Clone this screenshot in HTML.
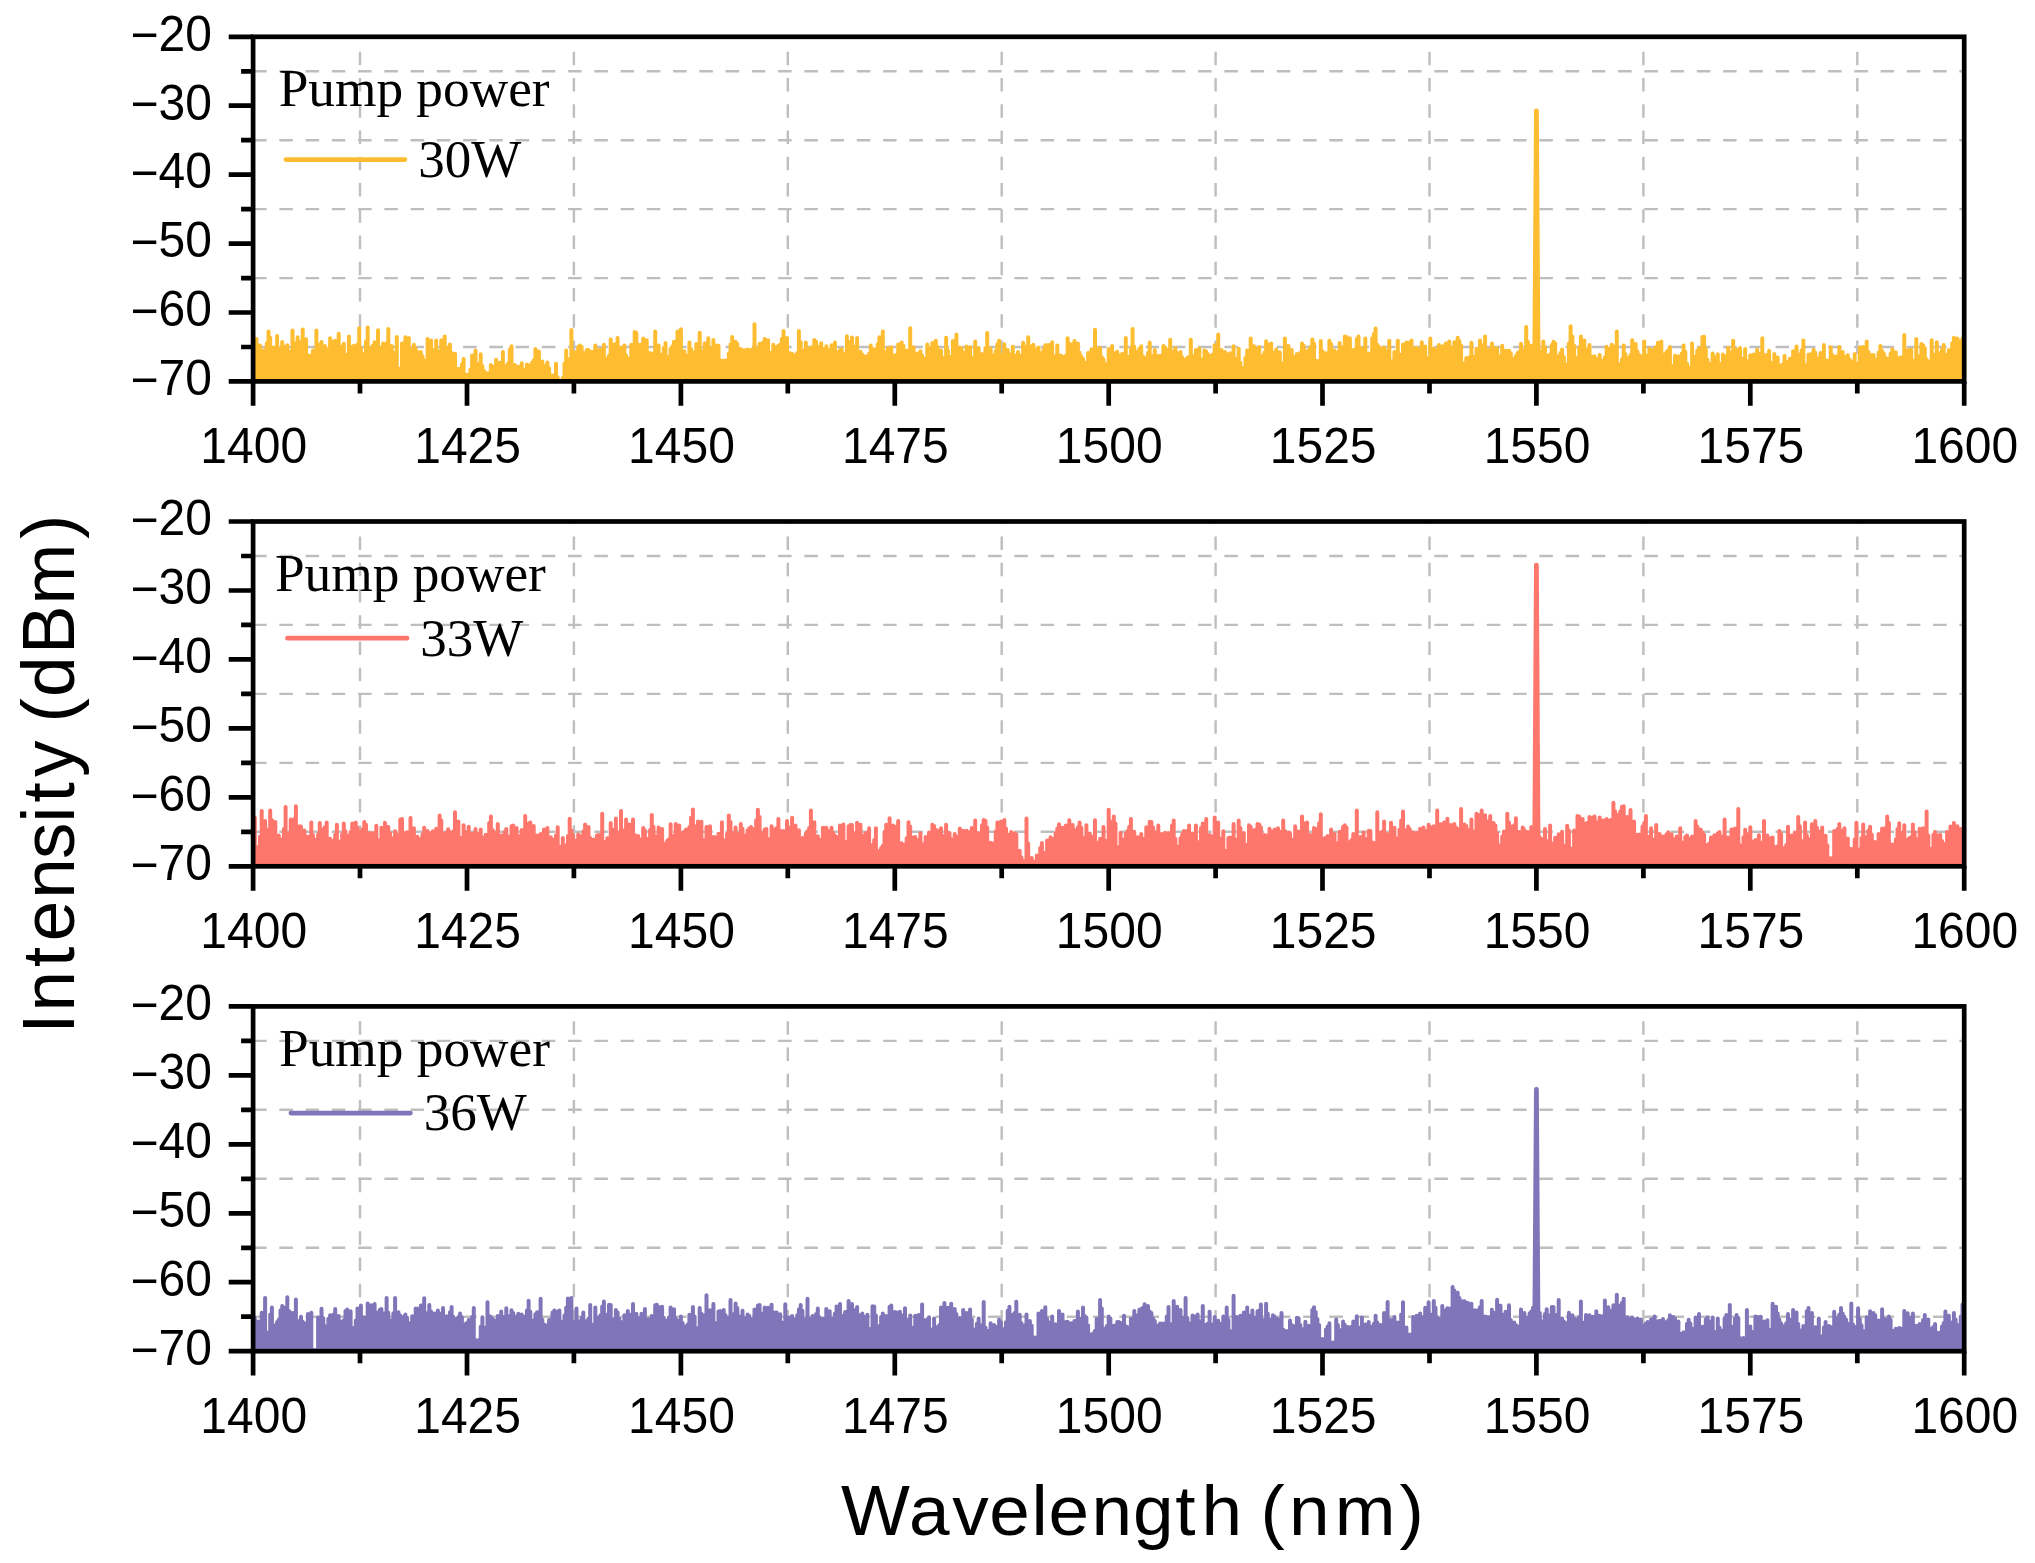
<!DOCTYPE html>
<html lang="en"><head><meta charset="utf-8"><title>Optical spectra at different pump power</title>
<style>html,body{margin:0;padding:0;background:#fff}body{width:2035px;height:1563px;overflow:hidden}svg{display:block}.tk{font-family:"Liberation Sans",sans-serif;font-size:46.6px;fill:#000}.ti{font-family:"Liberation Sans",sans-serif;fill:#000}.lg{font-family:"Liberation Serif",serif;fill:#000}</style></head><body>
<svg width="2035" height="1563" viewBox="0 0 2035 1563">
<rect width="2035" height="1563" fill="#fff"/>
<defs>
<clipPath id="c0"><rect x="253.1" y="36.8" width="1711.1" height="344.6"/></clipPath>
<clipPath id="c1"><rect x="253.1" y="521.5" width="1711.1" height="344.8"/></clipPath>
<clipPath id="c2"><rect x="253.1" y="1006.4" width="1711.1" height="344.8"/></clipPath>
</defs>
<g id="panel1">
<path d="M253.1 71.3H1964.2M253.1 140.2H1964.2M253.1 209.1H1964.2M253.1 278.1H1964.2M253.1 347H1964.2" fill="none" stroke="#BEBEBE" stroke-width="2.4" stroke-dasharray="13.5 12.75"/>
<path d="M360 380.2V36.8M573.9 380.2V36.8M787.8 380.2V36.8M1001.7 380.2V36.8M1215.6 380.2V36.8M1429.5 380.2V36.8M1643.4 380.2V36.8M1857.3 380.2V36.8" fill="none" stroke="#BEBEBE" stroke-width="2.4" stroke-dasharray="13.5 12.75"/>
<g clip-path="url(#c0)">
<path d="M253.1 381.4V341.3M254.8 381.4V346.1M256.5 381.4V339.1M258.2 381.4V348.1M259.9 381.4V345.4M261.7 381.4V355M263.4 381.4V350.4M265.1 381.4V350.3M266.8 381.4V343.2M268.5 381.4V331.5M270.2 381.4V337.7M271.9 381.4V356.6M273.6 381.4V347.5M275.3 381.4V353.9M277.1 381.4V335.9M278.8 381.4V348.9M280.5 381.4V355.8M282.2 381.4V342M283.9 381.4V362.4M285.6 381.4V346.8M287.3 381.4V345.2M289 381.4V351.4M290.7 381.4V358.7M292.5 381.4V330.4M294.2 381.4V344.3M295.9 381.4V343.3M297.6 381.4V337.3M299.3 381.4V341.8M301 381.4V344.2M302.7 381.4V329.5M304.4 381.4V355.2M306.1 381.4V339.2M307.9 381.4V364.2M309.6 381.4V355.5M311.3 381.4V357.6M313 381.4V350.5M314.7 381.4V362.7M316.4 381.4V330.6M318.1 381.4V344.7M319.8 381.4V352.2M321.5 381.4V342.1M323.3 381.4V354.3M325 381.4V345.9M326.7 381.4V349M328.4 381.4V356.2M330.1 381.4V338.2M331.8 381.4V347.2M333.5 381.4V341.8M335.2 381.4V340.8M336.9 381.4V347.5M338.7 381.4V333.7M340.4 381.4V351.9M342.1 381.4V346.5M343.8 381.4V343.7M345.5 381.4V354.8M347.2 381.4V356.2M348.9 381.4V336.4M350.6 381.4V348.5M352.3 381.4V346.7M354.1 381.4V345.8M355.8 381.4V349.6M357.5 381.4V344.4M359.2 381.4V328.3M360.9 381.4V348.2M362.6 381.4V353.9M364.3 381.4V357.9M366 381.4V341.4M367.7 381.4V327.6M369.5 381.4V358.6M371.2 381.4V348.4M372.9 381.4V345.4M374.6 381.4V342.3M376.3 381.4V357.8M378 381.4V330.2M379.7 381.4V349M381.4 381.4V347.6M383.1 381.4V343.6M384.9 381.4V351.1M386.6 381.4V343.3M388.3 381.4V329M390 381.4V349.9M391.7 381.4V346.1M393.4 381.4V357.2M395.1 381.4V352.4M396.8 381.4V337.1M398.5 381.4V370.5M400.3 381.4V368.5M402 381.4V343.6M403.7 381.4V356.2M405.4 381.4V337.3M407.1 381.4V342.4M408.8 381.4V338.1M410.5 381.4V349.7M412.2 381.4V355.2M413.9 381.4V344.7M415.7 381.4V348.7M417.4 381.4V351.9M419.1 381.4V352.6M420.8 381.4V352.1M422.5 381.4V356.2M424.2 381.4V360.6M425.9 381.4V370.8M427.6 381.4V339.1M429.3 381.4V349M431.1 381.4V340.5M432.8 381.4V350.1M434.5 381.4V354.8M436.2 381.4V340.6M437.9 381.4V351.2M439.6 381.4V354.4M441.3 381.4V340.2M443 381.4V359.9M444.7 381.4V336.5M446.5 381.4V351.9M448.2 381.4V347.6M449.9 381.4V344.5M451.6 381.4V353M453.3 381.4V357M455 381.4V353.8M456.7 381.4V371.1M458.4 381.4V368.8M460.1 381.4V376.3M461.9 381.4V364.3M463.6 381.4V359M465.3 381.4V374.5M467 381.4V377.9M468.7 381.4V374.5M470.4 381.4V369.6M472.1 381.4V355.4M473.8 381.4V362.3M475.5 381.4V350.4M477.3 381.4V368.3M479 381.4V364.1M480.7 381.4V354.2M482.4 381.4V366.1M484.1 381.4V370.9M485.8 381.4V373.1M487.5 381.4V376.6M489.2 381.4V373.1M490.9 381.4V364.9M492.7 381.4V366.4M494.4 381.4V366.7M496.1 381.4V359.8M497.8 381.4V375.6M499.5 381.4V362.8M501.2 381.4V373.4M502.9 381.4V351.9M504.6 381.4V366M506.3 381.4V377.1M508.1 381.4V363.2M509.8 381.4V349.5M511.5 381.4V346.2M513.2 381.4V371.3M514.9 381.4V365.1M516.6 381.4V368.8M518.3 381.4V366.8M520 381.4V371.3M521.7 381.4V363.2M523.5 381.4V371.2M525.2 381.4V369.6M526.9 381.4V364.6M528.6 381.4V365.4M530.3 381.4V373.3M532 381.4V362.7M533.7 381.4V360.3M535.4 381.4V349M537.1 381.4V367.1M538.9 381.4V351.6M540.6 381.4V372.6M542.3 381.4V361.4M544 381.4V366.9M545.7 381.4V365.8M547.4 381.4V362.4M549.1 381.4V368.2M550.8 381.4V375.2M552.5 381.4V378.6M554.3 381.4V375.2M556 381.4V363.7M557.7 381.4V377.2M559.4 381.4V380.7M562.8 381.4V377.7M564.5 381.4V363.6M566.2 381.4V350.4M567.9 381.4V365M569.7 381.4V358.9M571.4 381.4V330.1M573.1 381.4V354.8M574.8 381.4V352.2M576.5 381.4V351.9M578.2 381.4V347M579.9 381.4V345.5M581.6 381.4V346.8M583.3 381.4V353M585.1 381.4V354.9M586.8 381.4V350M588.5 381.4V350.1M590.2 381.4V356.4M591.9 381.4V351.8M593.6 381.4V353.1M595.3 381.4V345.4M597 381.4V349.8M598.7 381.4V356.1M600.5 381.4V349.8M602.2 381.4V353.7M603.9 381.4V344.7M605.6 381.4V359.8M607.3 381.4V358.8M609 381.4V355.6M610.7 381.4V339.4M612.4 381.4V345.9M614.1 381.4V344.6M615.9 381.4V344M617.6 381.4V338.1M619.3 381.4V350.8M621 381.4V347.7M622.7 381.4V349.5M624.4 381.4V345.6M626.1 381.4V355.5M627.8 381.4V358.5M629.5 381.4V365.8M631.3 381.4V344.8M633 381.4V359.2M634.7 381.4V332M636.4 381.4V332.9M638.1 381.4V344.6M639.8 381.4V350.7M641.5 381.4V344.6M643.2 381.4V338.5M644.9 381.4V345.7M646.7 381.4V340.3M648.4 381.4V354.6M650.1 381.4V353.1M651.8 381.4V357.4M653.5 381.4V353.6M655.2 381.4V331.4M656.9 381.4V356.7M658.6 381.4V345.6M660.3 381.4V354.6M662.1 381.4V362.6M663.8 381.4V347.9M665.5 381.4V343M667.2 381.4V356.8M668.9 381.4V364.1M670.6 381.4V348.8M672.3 381.4V346.3M674 381.4V341.8M675.7 381.4V349.8M677.5 381.4V331.4M679.2 381.4V343.9M680.9 381.4V329.2M682.6 381.4V358.3M684.3 381.4V351.3M686 381.4V355.5M687.7 381.4V360.9M689.4 381.4V342.5M691.1 381.4V349M692.9 381.4V352.2M694.6 381.4V354.4M696.3 381.4V343.9M698 381.4V356.9M699.7 381.4V332.8M701.4 381.4V350.9M703.1 381.4V363M704.8 381.4V343.3M706.5 381.4V350.8M708.3 381.4V338.2M710 381.4V348.7M711.7 381.4V359.4M713.4 381.4V340.1M715.1 381.4V347.1M716.8 381.4V345.4M718.5 381.4V345.8M720.2 381.4V362.6M721.9 381.4V360.5M723.7 381.4V369.6M725.4 381.4V360.4M727.1 381.4V363.4M728.8 381.4V353.6M730.5 381.4V344.6M732.2 381.4V337.1M733.9 381.4V356.7M735.6 381.4V341.7M737.3 381.4V343.9M739.1 381.4V349.3M740.8 381.4V349M742.5 381.4V350.4M744.2 381.4V350.3M745.9 381.4V350.5M747.6 381.4V349.6M749.3 381.4V356.5M751 381.4V349.8M752.7 381.4V363.3M754.5 381.4V324.2M756.2 381.4V353.3M757.9 381.4V348.7M759.6 381.4V343.8M761.3 381.4V349.8M763 381.4V342.4M764.7 381.4V338.9M766.4 381.4V347.4M768.1 381.4V340.2M769.9 381.4V353M771.6 381.4V352.7M773.3 381.4V344.7M775 381.4V354.4M776.7 381.4V346.9M778.4 381.4V345.8M780.1 381.4V344.7M781.8 381.4V338.9M783.5 381.4V331M785.3 381.4V352.5M787 381.4V338.1M788.7 381.4V352.7M790.4 381.4V353.6M792.1 381.4V353.8M793.8 381.4V366M795.5 381.4V355.2M797.2 381.4V352.9M798.9 381.4V331.1M800.7 381.4V342.3M802.4 381.4V352.7M804.1 381.4V350.5M805.8 381.4V342.6M807.5 381.4V355.7M809.2 381.4V348.9M810.9 381.4V347.6M812.6 381.4V347.5M814.3 381.4V340M816.1 381.4V341.4M817.8 381.4V346.8M819.5 381.4V346.7M821.2 381.4V343.3M822.9 381.4V348.7M824.6 381.4V350.2M826.3 381.4V346.2M828 381.4V351M829.7 381.4V350M831.5 381.4V345.2M833.2 381.4V351.3M834.9 381.4V342.5M836.6 381.4V352.1M838.3 381.4V354.9M840 381.4V350M841.7 381.4V349.3M843.4 381.4V353.5M845.1 381.4V358.6M846.9 381.4V336.3M848.6 381.4V350.9M850.3 381.4V341.8M852 381.4V337.5M853.7 381.4V346.5M855.4 381.4V352M857.1 381.4V338.1M858.8 381.4V356.4M860.5 381.4V351.8M862.3 381.4V354.4M864 381.4V371M865.7 381.4V356.2M867.4 381.4V358.8M869.1 381.4V353.8M870.8 381.4V345.6M872.5 381.4V357.5M874.2 381.4V349.3M875.9 381.4V368.1M877.7 381.4V344.3M879.4 381.4V337.3M881.1 381.4V340.6M882.8 381.4V331.6M884.5 381.4V355.6M886.2 381.4V352M887.9 381.4V348.2M889.6 381.4V354.4M891.3 381.4V347.3M893.1 381.4V355.6M894.8 381.4V361.3M896.5 381.4V354.8M898.2 381.4V344.6M899.9 381.4V355.4M901.6 381.4V342.5M903.3 381.4V345.8M905 381.4V361.5M906.7 381.4V350.5M908.5 381.4V363.2M910.2 381.4V328.3M911.9 381.4V353.6M913.6 381.4V347.3M915.3 381.4V360M917 381.4V353.7M918.7 381.4V353.2M920.4 381.4V351.3M922.1 381.4V355.5M923.9 381.4V360.6M925.6 381.4V358.7M927.3 381.4V344.6M929 381.4V350.8M930.7 381.4V347.9M932.4 381.4V343M934.1 381.4V360.9M935.8 381.4V340.8M937.5 381.4V347M939.3 381.4V358.4M941 381.4V350.4M942.7 381.4V357.6M944.4 381.4V361M946.1 381.4V337.8M947.8 381.4V350.2M949.5 381.4V356.8M951.2 381.4V362.3M952.9 381.4V341.1M954.7 381.4V347.5M956.4 381.4V334.5M958.1 381.4V347.2M959.8 381.4V347.5M961.5 381.4V348.4M963.2 381.4V352.7M964.9 381.4V368.7M966.6 381.4V346.5M968.3 381.4V360.7M970.1 381.4V347.3M971.8 381.4V357.5M973.5 381.4V358.1M975.2 381.4V341.4M976.9 381.4V349.5M978.6 381.4V348M980.3 381.4V353.8M982 381.4V356M983.7 381.4V354M985.5 381.4V347.9M987.2 381.4V333.1M988.9 381.4V356.9M990.6 381.4V348.7M992.3 381.4V359M994 381.4V354.9M995.7 381.4V351M997.4 381.4V344.2M999.1 381.4V340.8M1000.9 381.4V354.8M1002.6 381.4V358.7M1004.3 381.4V344.3M1006 381.4V362.9M1007.7 381.4V350M1009.4 381.4V354.2M1011.1 381.4V356.2M1012.8 381.4V346.8M1014.5 381.4V355.4M1016.3 381.4V362M1018 381.4V352M1019.7 381.4V355.8M1021.4 381.4V357.1M1023.1 381.4V342.8M1024.8 381.4V346.6M1026.5 381.4V353.8M1028.2 381.4V337.2M1029.9 381.4V350.3M1031.7 381.4V346.1M1033.4 381.4V344.8M1035.1 381.4V359.8M1036.8 381.4V349.2M1038.5 381.4V347.4M1040.2 381.4V354.9M1041.9 381.4V352.9M1043.6 381.4V349.8M1045.3 381.4V345.3M1047.1 381.4V345.3M1048.8 381.4V345M1050.5 381.4V359.4M1052.2 381.4V342.2M1053.9 381.4V365.9M1055.6 381.4V356.3M1057.3 381.4V345.5M1059 381.4V372.7M1060.7 381.4V355.6M1062.5 381.4V362M1064.2 381.4V356.8M1065.9 381.4V355.7M1067.6 381.4V338.2M1069.3 381.4V343.6M1071 381.4V349.1M1072.7 381.4V344.2M1074.4 381.4V341.1M1076.1 381.4V356.4M1077.9 381.4V343.5M1079.6 381.4V352.7M1081.3 381.4V356.4M1083 381.4V358.8M1084.7 381.4V373.4M1086.4 381.4V362.8M1088.1 381.4V352.9M1089.8 381.4V353.4M1091.5 381.4V349.2M1093.3 381.4V361.8M1095 381.4V329.7M1096.7 381.4V367.6M1098.4 381.4V349M1100.1 381.4V348.1M1101.8 381.4V357.1M1103.5 381.4V359.3M1105.2 381.4V364M1106.9 381.4V365.2M1108.7 381.4V349.1M1110.4 381.4V356.1M1112.1 381.4V345.9M1113.8 381.4V356.9M1115.5 381.4V353.3M1117.2 381.4V351.8M1118.9 381.4V363.8M1120.6 381.4V355.2M1122.3 381.4V353.8M1124 381.4V364.7M1125.8 381.4V337.9M1127.5 381.4V356.7M1129.2 381.4V367.6M1130.9 381.4V348.7M1132.6 381.4V328.9M1134.3 381.4V346.8M1136 381.4V352.2M1137.7 381.4V351.7M1139.4 381.4V348.8M1141.2 381.4V346.3M1142.9 381.4V356.3M1144.6 381.4V358M1146.3 381.4V358.4M1148 381.4V352.7M1149.7 381.4V342.5M1151.4 381.4V363.8M1153.1 381.4V356M1154.8 381.4V350.1M1156.6 381.4V360.4M1158.3 381.4V355.7M1160 381.4V357.1M1161.7 381.4V355.5M1163.4 381.4V346M1165.1 381.4V347.4M1166.8 381.4V354M1168.5 381.4V349.8M1170.2 381.4V339.7M1172 381.4V355.7M1173.7 381.4V351.6M1175.4 381.4V348.3M1177.1 381.4V353.1M1178.8 381.4V360.6M1180.5 381.4V351.9M1182.2 381.4V357.3M1183.9 381.4V360.1M1185.6 381.4V359.6M1187.4 381.4V357.8M1189.1 381.4V356.9M1190.8 381.4V339.8M1192.5 381.4V360.5M1194.2 381.4V356M1195.9 381.4V349.9M1197.6 381.4V367.2M1199.3 381.4V348.6M1201 381.4V362.3M1202.8 381.4V359.2M1204.5 381.4V350.4M1206.2 381.4V351.4M1207.9 381.4V354M1209.6 381.4V356.7M1211.3 381.4V355.7M1213 381.4V354.3M1214.7 381.4V345.3M1216.4 381.4V352.5M1218.2 381.4V334.6M1219.9 381.4V362.6M1221.6 381.4V350M1223.3 381.4V367.1M1225 381.4V352.1M1226.7 381.4V357.1M1228.4 381.4V354.2M1230.1 381.4V353.2M1231.8 381.4V358.3M1233.6 381.4V346.2M1235.3 381.4V359.8M1237 381.4V358.8M1238.7 381.4V348.8M1240.4 381.4V362.8M1242.1 381.4V368.1M1243.8 381.4V370.8M1245.5 381.4V357.7M1247.2 381.4V350.5M1249 381.4V363.5M1250.7 381.4V338.5M1252.4 381.4V345.9M1254.1 381.4V346.2M1255.8 381.4V349.2M1257.5 381.4V358.4M1259.2 381.4V346.9M1260.9 381.4V357.6M1262.6 381.4V356M1264.4 381.4V352.5M1266.1 381.4V341.3M1267.8 381.4V356.3M1269.5 381.4V344.6M1271.2 381.4V343.6M1272.9 381.4V357.8M1274.6 381.4V352.6M1276.3 381.4V349.6M1278 381.4V357.2M1279.8 381.4V352.2M1281.5 381.4V363.2M1283.2 381.4V367.7M1284.9 381.4V338.4M1286.6 381.4V353.7M1288.3 381.4V345.7M1290 381.4V357.9M1291.7 381.4V350.1M1293.4 381.4V356.9M1295.2 381.4V366.2M1296.9 381.4V354M1298.6 381.4V356.2M1300.3 381.4V352.8M1302 381.4V343.6M1303.7 381.4V345.7M1305.4 381.4V358.2M1307.1 381.4V351.2M1308.8 381.4V350.2M1310.6 381.4V347.1M1312.3 381.4V339.4M1314 381.4V343.6M1315.7 381.4V360.7M1317.4 381.4V361M1319.1 381.4V361.2M1320.8 381.4V340.9M1322.5 381.4V351.3M1324.2 381.4V353.8M1326 381.4V353.3M1327.7 381.4V358.6M1329.4 381.4V340.7M1331.1 381.4V344M1332.8 381.4V355.4M1334.5 381.4V350.6M1336.2 381.4V361.8M1337.9 381.4V352.2M1339.6 381.4V343.1M1341.4 381.4V347.5M1343.1 381.4V350.2M1344.8 381.4V336.5M1346.5 381.4V336.9M1348.2 381.4V359.1M1349.9 381.4V338.2M1351.6 381.4V349.9M1353.3 381.4V357.5M1355 381.4V349.5M1356.8 381.4V339.1M1358.5 381.4V336.5M1360.2 381.4V347.7M1361.9 381.4V350.2M1363.6 381.4V348.8M1365.3 381.4V338.4M1367 381.4V358.7M1368.7 381.4V353.4M1370.4 381.4V358.3M1372.2 381.4V338.2M1373.9 381.4V334M1375.6 381.4V328.5M1377.3 381.4V344.7M1379 381.4V346.8M1380.7 381.4V357.9M1382.4 381.4V348.4M1384.1 381.4V347.4M1385.8 381.4V351.1M1387.6 381.4V356.8M1389.3 381.4V340.8M1391 381.4V363.7M1392.7 381.4V361M1394.4 381.4V352M1396.1 381.4V359.1M1397.8 381.4V340.8M1399.5 381.4V354.6M1401.2 381.4V357.4M1403 381.4V344.4M1404.7 381.4V348.5M1406.4 381.4V342.6M1408.1 381.4V355.8M1409.8 381.4V342.6M1411.5 381.4V340.6M1413.2 381.4V368.9M1414.9 381.4V348.6M1416.6 381.4V347.8M1418.4 381.4V349.6M1420.1 381.4V362.7M1421.8 381.4V342.3M1423.5 381.4V352.9M1425.2 381.4V346.6M1426.9 381.4V358.3M1428.6 381.4V358.1M1430.3 381.4V338.5M1432 381.4V351.3M1433.8 381.4V348.4M1435.5 381.4V355M1437.2 381.4V349.9M1438.9 381.4V344.9M1440.6 381.4V357.3M1442.3 381.4V346.2M1444 381.4V359.4M1445.7 381.4V343.6M1447.4 381.4V360.2M1449.2 381.4V341.4M1450.9 381.4V356.9M1452.6 381.4V347.3M1454.3 381.4V342.3M1456 381.4V341.9M1457.7 381.4V337.8M1459.4 381.4V340.9M1461.1 381.4V345.6M1462.8 381.4V363.3M1464.6 381.4V364.5M1466.3 381.4V358M1468 381.4V372.4M1469.7 381.4V357.1M1471.4 381.4V342.8M1473.1 381.4V356.8M1474.8 381.4V359.7M1476.5 381.4V348.8M1478.2 381.4V356.5M1480 381.4V340.6M1481.7 381.4V348.2M1483.4 381.4V345.1M1485.1 381.4V336.4M1486.8 381.4V352.1M1488.5 381.4V349.7M1490.2 381.4V361.2M1491.9 381.4V343.5M1493.6 381.4V348.5M1495.4 381.4V348.2M1497.1 381.4V348.8M1498.8 381.4V359.1M1500.5 381.4V356.1M1502.2 381.4V345.8M1503.9 381.4V358.4M1505.6 381.4V350.7M1507.3 381.4V351.8M1509 381.4V350.8M1510.8 381.4V353.2M1512.5 381.4V360.5M1514.2 381.4V358.8M1515.9 381.4V356.1M1517.6 381.4V352.9M1519.3 381.4V351.8M1521 381.4V343.8M1522.7 381.4V350.2M1524.4 381.4V357.5M1526.2 381.4V327.1M1527.9 381.4V341.7M1529.6 381.4V351.4M1531.3 381.4V345.8M1533 381.4V351.2M1534.7 381.4V360.1M1536.4 381.4V349.5M1538.1 381.4V334M1539.8 381.4V350.9M1541.6 381.4V355.2M1543.3 381.4V341.4M1545 381.4V347M1546.7 381.4V359.4M1548.4 381.4V355.4M1550.1 381.4V354.5M1551.8 381.4V344.9M1553.5 381.4V341.7M1555.2 381.4V343.2M1557 381.4V356.3M1558.7 381.4V358.5M1560.4 381.4V353.1M1562.1 381.4V349.6M1563.8 381.4V356.9M1565.5 381.4V364.5M1567.2 381.4V365.9M1568.9 381.4V343.6M1570.6 381.4V326.2M1572.4 381.4V336.6M1574.1 381.4V345.8M1575.8 381.4V364.2M1577.5 381.4V358.1M1579.2 381.4V347.2M1580.9 381.4V336.6M1582.6 381.4V350.5M1584.3 381.4V340.6M1586 381.4V360.6M1587.8 381.4V349M1589.5 381.4V345M1591.2 381.4V369.8M1592.9 381.4V356.4M1594.6 381.4V356.4M1596.3 381.4V361.7M1598 381.4V358.9M1599.7 381.4V354.9M1601.4 381.4V372.6M1603.2 381.4V360.8M1604.9 381.4V357.3M1606.6 381.4V346.8M1608.3 381.4V349M1610 381.4V348.9M1611.7 381.4V344.7M1613.4 381.4V346.2M1615.1 381.4V367M1616.8 381.4V331.6M1618.6 381.4V364.1M1620.3 381.4V375.2M1622 381.4V359.3M1623.7 381.4V345.5M1625.4 381.4V354.1M1627.1 381.4V357.9M1628.8 381.4V361.6M1630.5 381.4V355.1M1632.2 381.4V340.3M1634 381.4V355.3M1635.7 381.4V343.9M1637.4 381.4V351.6M1639.1 381.4V355M1640.8 381.4V356.3M1642.5 381.4V356.9M1644.2 381.4V341.4M1645.9 381.4V355.3M1647.6 381.4V360M1649.4 381.4V348.8M1651.1 381.4V364.4M1652.8 381.4V350.3M1654.5 381.4V348.8M1656.2 381.4V347M1657.9 381.4V342.8M1659.6 381.4V362.5M1661.3 381.4V341.4M1663 381.4V357.8M1664.8 381.4V354.3M1666.5 381.4V352.1M1668.2 381.4V350.3M1669.9 381.4V346.9M1671.6 381.4V366M1673.3 381.4V365.7M1675 381.4V355.7M1676.7 381.4V358.3M1678.4 381.4V356.3M1680.2 381.4V361.2M1681.9 381.4V353.4M1683.6 381.4V345.5M1685.3 381.4V351.8M1687 381.4V363.8M1688.7 381.4V367.5M1690.4 381.4V374.7M1692.1 381.4V343.6M1693.8 381.4V358.6M1695.6 381.4V356.5M1697.3 381.4V350.5M1699 381.4V348.4M1700.7 381.4V362.7M1702.4 381.4V337M1704.1 381.4V336.8M1705.8 381.4V348.8M1707.5 381.4V359.8M1709.2 381.4V364M1711 381.4V363.9M1712.7 381.4V353.4M1714.4 381.4V357.2M1716.1 381.4V366.7M1717.8 381.4V354.2M1719.5 381.4V363.7M1721.2 381.4V368.5M1722.9 381.4V354.4M1724.6 381.4V355.9M1726.4 381.4V368.7M1728.1 381.4V347.7M1729.8 381.4V352.3M1731.5 381.4V360.1M1733.2 381.4V340.7M1734.9 381.4V358.3M1736.6 381.4V349.6M1738.3 381.4V355.4M1740 381.4V348.1M1741.8 381.4V365.2M1743.5 381.4V358.6M1745.2 381.4V349M1746.9 381.4V368.5M1748.6 381.4V361M1750.3 381.4V355.2M1752 381.4V369.4M1753.7 381.4V354.6M1755.4 381.4V358.9M1757.2 381.4V349.8M1758.9 381.4V360.2M1760.6 381.4V353.6M1762.3 381.4V338.3M1764 381.4V358M1765.7 381.4V355M1767.4 381.4V359.2M1769.1 381.4V350.8M1770.8 381.4V362.7M1772.6 381.4V363.6M1774.3 381.4V354M1776 381.4V359.8M1777.7 381.4V357.6M1779.4 381.4V368.2M1781.1 381.4V365.5M1782.8 381.4V364.6M1784.5 381.4V356.1M1786.2 381.4V362.1M1788 381.4V367.3M1789.7 381.4V358.8M1791.4 381.4V364.6M1793.1 381.4V351.2M1794.8 381.4V357.8M1796.5 381.4V346.5M1798.2 381.4V362.9M1799.9 381.4V354.3M1801.6 381.4V350.2M1803.4 381.4V340.4M1805.1 381.4V365.1M1806.8 381.4V366.8M1808.5 381.4V354.6M1810.2 381.4V366.5M1811.9 381.4V353.4M1813.6 381.4V349.7M1815.3 381.4V352.7M1817 381.4V359.7M1818.8 381.4V358.2M1820.5 381.4V352.9M1822.2 381.4V360.7M1823.9 381.4V345M1825.6 381.4V363.1M1827.3 381.4V360.4M1829 381.4V361.8M1830.7 381.4V347.2M1832.4 381.4V355M1834.2 381.4V365.8M1835.9 381.4V356.6M1837.6 381.4V356.2M1839.3 381.4V347.1M1841 381.4V364M1842.7 381.4V352.1M1844.4 381.4V356.7M1846.1 381.4V358.1M1847.8 381.4V354.9M1849.6 381.4V359.4M1851.3 381.4V361.6M1853 381.4V367.2M1854.7 381.4V354M1856.4 381.4V364.9M1858.1 381.4V363.6M1859.8 381.4V347.6M1861.5 381.4V349.5M1863.2 381.4V347.1M1865 381.4V366.9M1866.7 381.4V341.5M1868.4 381.4V351.9M1870.1 381.4V356.5M1871.8 381.4V355M1873.5 381.4V354.9M1875.2 381.4V363.4M1876.9 381.4V359.3M1878.6 381.4V352.4M1880.4 381.4V346.1M1882.1 381.4V351.1M1883.8 381.4V353.6M1885.5 381.4V357.5M1887.2 381.4V358.7M1888.9 381.4V361.4M1890.6 381.4V353.7M1892.3 381.4V349.3M1894 381.4V360.9M1895.8 381.4V352.3M1897.5 381.4V358.3M1899.2 381.4V358.3M1900.9 381.4V357.2M1902.6 381.4V360.5M1904.3 381.4V334.9M1906 381.4V354.7M1907.7 381.4V350.3M1909.4 381.4V350.3M1911.2 381.4V349.8M1912.9 381.4V371.9M1914.6 381.4V360.7M1916.3 381.4V339.1M1918 381.4V358.7M1919.7 381.4V356M1921.4 381.4V343.9M1923.1 381.4V345.2M1924.8 381.4V347.9M1926.6 381.4V359.3M1928.3 381.4V362.8M1930 381.4V361.6M1931.7 381.4V340.3M1933.4 381.4V363.7M1935.1 381.4V354.5M1936.8 381.4V342.3M1938.5 381.4V355.8M1940.2 381.4V353.1M1942 381.4V349.6M1943.7 381.4V344.9M1945.4 381.4V354.7M1947.1 381.4V365.7M1948.8 381.4V350.1M1950.5 381.4V364.6M1952.2 381.4V343.3M1953.9 381.4V337.8M1955.6 381.4V347.4M1957.4 381.4V338.5M1959.1 381.4V341.2M1960.8 381.4V364M1962.5 381.4V338.5M1964.2 381.4V359.9" fill="none" stroke="#FEBD31" stroke-width="4.0" stroke-linecap="round"/>
<path d="M1534.4 381.4L1536.2 110.6L1536.6 110.6L1538.4 381.4Z" fill="#FEBD31" stroke="#FEBD31" stroke-width="4.4" stroke-linejoin="round"/>
</g>
<rect x="253.1" y="36.8" width="1711.1" height="344.6" fill="none" stroke="#000" stroke-width="4.7"/>
<path d="M253.1 381.4H228.7M253.1 347H241.1M253.1 312.5H228.7M253.1 278.1H241.1M253.1 243.6H228.7M253.1 209.1H241.1M253.1 174.7H228.7M253.1 140.2H241.1M253.1 105.7H228.7M253.1 71.3H241.1M253.1 36.8H228.7M253.1 381.4V405.8M360 381.4V393.4M467 381.4V405.8M573.9 381.4V393.4M680.9 381.4V405.8M787.8 381.4V393.4M894.8 381.4V405.8M1001.7 381.4V393.4M1108.7 381.4V405.8M1215.6 381.4V393.4M1322.5 381.4V405.8M1429.5 381.4V393.4M1536.4 381.4V405.8M1643.4 381.4V393.4M1750.3 381.4V405.8M1857.3 381.4V393.4M1964.2 381.4V405.8" fill="none" stroke="#000" stroke-width="4.7"/>
<text id="y0_70" class="tk" text-anchor="end" transform="translate(211.85 395.25) scale(1.0300 1.0750)"><tspan dy="1.7">−</tspan><tspan dy="-1.7">70</tspan></text>
<text id="y0_60" class="tk" text-anchor="end" transform="translate(211.85 326.32) scale(1.0300 1.0750)"><tspan dy="1.7">−</tspan><tspan dy="-1.7">60</tspan></text>
<text id="y0_50" class="tk" text-anchor="end" transform="translate(211.85 257.39) scale(1.0300 1.0750)"><tspan dy="1.7">−</tspan><tspan dy="-1.7">50</tspan></text>
<text id="y0_40" class="tk" text-anchor="end" transform="translate(211.85 188.46) scale(1.0300 1.0750)"><tspan dy="1.7">−</tspan><tspan dy="-1.7">40</tspan></text>
<text id="y0_30" class="tk" text-anchor="end" transform="translate(211.85 119.53) scale(1.0300 1.0750)"><tspan dy="1.7">−</tspan><tspan dy="-1.7">30</tspan></text>
<text id="y0_20" class="tk" text-anchor="end" transform="translate(211.85 50.60) scale(1.0300 1.0750)"><tspan dy="1.7">−</tspan><tspan dy="-1.7">20</tspan></text>
<text id="x0_1400" class="tk" text-anchor="middle" transform="translate(253.70 462.85) scale(1.0300 1.0750)">1400</text>
<text id="x0_1425" class="tk" text-anchor="middle" transform="translate(467.59 462.85) scale(1.0300 1.0750)">1425</text>
<text id="x0_1450" class="tk" text-anchor="middle" transform="translate(681.48 462.85) scale(1.0300 1.0750)">1450</text>
<text id="x0_1475" class="tk" text-anchor="middle" transform="translate(895.36 462.85) scale(1.0300 1.0750)">1475</text>
<text id="x0_1500" class="tk" text-anchor="middle" transform="translate(1109.25 462.85) scale(1.0300 1.0750)">1500</text>
<text id="x0_1525" class="tk" text-anchor="middle" transform="translate(1323.14 462.85) scale(1.0300 1.0750)">1525</text>
<text id="x0_1550" class="tk" text-anchor="middle" transform="translate(1537.02 462.85) scale(1.0300 1.0750)">1550</text>
<text id="x0_1575" class="tk" text-anchor="middle" transform="translate(1750.91 462.85) scale(1.0300 1.0750)">1575</text>
<text id="x0_1600" class="tk" text-anchor="middle" transform="translate(1964.80 462.85) scale(1.0300 1.0750)">1600</text>
<text id="pump0" class="lg" style="font-size:53.30px" text-anchor="start" transform="translate(278.63 106.00)">Pump power</text>
<path d="M285.9 159.6H404.9" stroke="#FEBD31" stroke-width="4.7" stroke-linecap="round" fill="none"/>
<text id="w0" class="lg" style="font-size:53.00px" text-anchor="start" transform="translate(418.16 177.10)">30W</text>
</g>
<g id="panel2">
<path d="M253.1 556H1964.2M253.1 624.9H1964.2M253.1 693.9H1964.2M253.1 762.9H1964.2M253.1 831.8H1964.2" fill="none" stroke="#BEBEBE" stroke-width="2.4" stroke-dasharray="13.5 12.75"/>
<path d="M360 864.9V521.5M573.9 864.9V521.5M787.8 864.9V521.5M1001.7 864.9V521.5M1215.6 864.9V521.5M1429.5 864.9V521.5M1643.4 864.9V521.5M1857.3 864.9V521.5" fill="none" stroke="#BEBEBE" stroke-width="2.4" stroke-dasharray="13.5 12.75"/>
<g clip-path="url(#c1)">
<path d="M253.1 866.3V839.5M254.8 866.3V817.8M256.5 866.3V847.2M258.2 866.3V846.9M259.9 866.3V836.8M261.7 866.3V811.1M263.4 866.3V833M265.1 866.3V821.1M266.8 866.3V840.4M268.5 866.3V829.5M270.2 866.3V810.4M271.9 866.3V820.1M273.6 866.3V834.6M275.3 866.3V822.1M277.1 866.3V843.1M278.8 866.3V835.5M280.5 866.3V839.5M282.2 866.3V839.5M283.9 866.3V829M285.6 866.3V806.9M287.3 866.3V833.6M289 866.3V845.4M290.7 866.3V819.6M292.5 866.3V848.6M294.2 866.3V818.9M295.9 866.3V806.2M297.6 866.3V836.8M299.3 866.3V826.2M301 866.3V826.5M302.7 866.3V833.6M304.4 866.3V830.6M306.1 866.3V836.4M307.9 866.3V837.5M309.6 866.3V836.6M311.3 866.3V822.6M313 866.3V834.9M314.7 866.3V839.5M316.4 866.3V852.4M318.1 866.3V834.4M319.8 866.3V823M321.5 866.3V838.4M323.3 866.3V829.3M325 866.3V826.9M326.7 866.3V822.4M328.4 866.3V840.1M330.1 866.3V838.8M331.8 866.3V851M333.5 866.3V840.7M335.2 866.3V834.8M336.9 866.3V824.8M338.7 866.3V841.6M340.4 866.3V853.1M342.1 866.3V834.5M343.8 866.3V823.4M345.5 866.3V831.2M347.2 866.3V835.4M348.9 866.3V837.8M350.6 866.3V832.1M352.3 866.3V823.5M354.1 866.3V826.9M355.8 866.3V822.4M357.5 866.3V827.7M359.2 866.3V831.4M360.9 866.3V837.6M362.6 866.3V829.3M364.3 866.3V821.9M366 866.3V824.8M367.7 866.3V844.2M369.5 866.3V833.2M371.2 866.3V833.7M372.9 866.3V832.9M374.6 866.3V840.1M376.3 866.3V825.7M378 866.3V839.9M379.7 866.3V843.2M381.4 866.3V827.8M383.1 866.3V837.9M384.9 866.3V822.7M386.6 866.3V826.4M388.3 866.3V827M390 866.3V833.5M391.7 866.3V839.4M393.4 866.3V838M395.1 866.3V831.3M396.8 866.3V834.6M398.5 866.3V856M400.3 866.3V819.6M402 866.3V819M403.7 866.3V838.5M405.4 866.3V833.1M407.1 866.3V832.3M408.8 866.3V839.1M410.5 866.3V818M412.2 866.3V839.9M413.9 866.3V828.2M415.7 866.3V839M417.4 866.3V836.7M419.1 866.3V843.8M420.8 866.3V838.9M422.5 866.3V834.4M424.2 866.3V827.8M425.9 866.3V841.6M427.6 866.3V831M429.3 866.3V841.6M431.1 866.3V832.9M432.8 866.3V831.3M434.5 866.3V831.8M436.2 866.3V828.8M437.9 866.3V836.9M439.6 866.3V815.5M441.3 866.3V820.4M443 866.3V837.2M444.7 866.3V833.7M446.5 866.3V832.4M448.2 866.3V829.3M449.9 866.3V832.3M451.6 866.3V836M453.3 866.3V831.3M455 866.3V812.2M456.7 866.3V844.2M458.4 866.3V821.5M460.1 866.3V838.2M461.9 866.3V837.7M463.6 866.3V825.2M465.3 866.3V842.5M467 866.3V832M468.7 866.3V826.8M470.4 866.3V837.2M472.1 866.3V833.8M473.8 866.3V838.2M475.5 866.3V828.9M477.3 866.3V843.3M479 866.3V833.4M480.7 866.3V829.6M482.4 866.3V837.4M484.1 866.3V841.3M485.8 866.3V834.8M487.5 866.3V844.2M489.2 866.3V823M490.9 866.3V816.6M492.7 866.3V830M494.4 866.3V838.8M496.1 866.3V832.6M497.8 866.3V824.1M499.5 866.3V849.8M501.2 866.3V835.4M502.9 866.3V841.7M504.6 866.3V832M506.3 866.3V829.1M508.1 866.3V848.6M509.8 866.3V836.4M511.5 866.3V826.3M513.2 866.3V825.6M514.9 866.3V843M516.6 866.3V827.9M518.3 866.3V836M520 866.3V852.2M521.7 866.3V830M523.5 866.3V837M525.2 866.3V815.9M526.9 866.3V835.7M528.6 866.3V823.4M530.3 866.3V822.5M532 866.3V828.2M533.7 866.3V826M535.4 866.3V837.3M537.1 866.3V835.5M538.9 866.3V842.6M540.6 866.3V834.1M542.3 866.3V838.1M544 866.3V829.5M545.7 866.3V840.1M547.4 866.3V828M549.1 866.3V849.3M550.8 866.3V837.2M552.5 866.3V839.5M554.3 866.3V840.5M556 866.3V835.4M557.7 866.3V827.2M559.4 866.3V852.7M561.1 866.3V846.5M562.8 866.3V838.1M564.5 866.3V845.7M566.2 866.3V845.2M567.9 866.3V836.1M569.7 866.3V818.8M571.4 866.3V830.6M573.1 866.3V835.3M574.8 866.3V840.6M576.5 866.3V854.5M578.2 866.3V834.4M579.9 866.3V835.9M581.6 866.3V847.1M583.3 866.3V831.4M585.1 866.3V824.4M586.8 866.3V830.2M588.5 866.3V826.9M590.2 866.3V838.1M591.9 866.3V842.5M593.6 866.3V839.4M595.3 866.3V844.2M597 866.3V835.5M598.7 866.3V835M600.5 866.3V838.5M602.2 866.3V813.7M603.9 866.3V842M605.6 866.3V841.7M607.3 866.3V838.2M609 866.3V841.4M610.7 866.3V822.9M612.4 866.3V829.5M614.1 866.3V850.7M615.9 866.3V818.6M617.6 866.3V832.2M619.3 866.3V833.3M621 866.3V811.1M622.7 866.3V830.2M624.4 866.3V830.8M626.1 866.3V819.4M627.8 866.3V824.2M629.5 866.3V824.6M631.3 866.3V832M633 866.3V819.6M634.7 866.3V835M636.4 866.3V840.8M638.1 866.3V835.9M639.8 866.3V841M641.5 866.3V839.2M643.2 866.3V828.1M644.9 866.3V830.4M646.7 866.3V838.7M648.4 866.3V842.8M650.1 866.3V829.9M651.8 866.3V815M653.5 866.3V826.7M655.2 866.3V836.2M656.9 866.3V839.2M658.6 866.3V827.6M660.3 866.3V841.1M662.1 866.3V828.9M663.8 866.3V843.6M665.5 866.3V845.6M667.2 866.3V840.8M668.9 866.3V839.2M670.6 866.3V824.3M672.3 866.3V838.3M674 866.3V835.9M675.7 866.3V824M677.5 866.3V840M679.2 866.3V825.5M680.9 866.3V836.9M682.6 866.3V833.2M684.3 866.3V831.7M686 866.3V829.6M687.7 866.3V835M689.4 866.3V826.9M691.1 866.3V817.8M692.9 866.3V809.5M694.6 866.3V826M696.3 866.3V835.3M698 866.3V821.4M699.7 866.3V824.6M701.4 866.3V821.7M703.1 866.3V840.1M704.8 866.3V840.8M706.5 866.3V827M708.3 866.3V841.2M710 866.3V826.2M711.7 866.3V843.7M713.4 866.3V837M715.1 866.3V837.2M716.8 866.3V848.2M718.5 866.3V833.8M720.2 866.3V834.4M721.9 866.3V822.2M723.7 866.3V842.4M725.4 866.3V840.3M727.1 866.3V833.7M728.8 866.3V815.6M730.5 866.3V822M732.2 866.3V835.5M733.9 866.3V833.4M735.6 866.3V827.6M737.3 866.3V835.5M739.1 866.3V834.3M740.8 866.3V824.1M742.5 866.3V828.7M744.2 866.3V839.4M745.9 866.3V835.2M747.6 866.3V830.4M749.3 866.3V828.2M751 866.3V826.9M752.7 866.3V838.6M754.5 866.3V829.1M756.2 866.3V820.2M757.9 866.3V809.7M759.6 866.3V817M761.3 866.3V837.6M763 866.3V833.2M764.7 866.3V829.5M766.4 866.3V829M768.1 866.3V838.9M769.9 866.3V839.4M771.6 866.3V826.2M773.3 866.3V847.8M775 866.3V829.3M776.7 866.3V828.1M778.4 866.3V819M780.1 866.3V830.6M781.8 866.3V838.1M783.5 866.3V831.1M785.3 866.3V833.3M787 866.3V821M788.7 866.3V827.2M790.4 866.3V836.9M792.1 866.3V817.7M793.8 866.3V829.9M795.5 866.3V825.4M797.2 866.3V845.8M798.9 866.3V830.3M800.7 866.3V848.9M802.4 866.3V837.9M804.1 866.3V839.9M805.8 866.3V834M807.5 866.3V831.2M809.2 866.3V828M810.9 866.3V810.4M812.6 866.3V831.5M814.3 866.3V822.3M816.1 866.3V842.2M817.8 866.3V836.2M819.5 866.3V844.6M821.2 866.3V839.7M822.9 866.3V827.8M824.6 866.3V828.2M826.3 866.3V827.7M828 866.3V830.9M829.7 866.3V831.3M831.5 866.3V827.7M833.2 866.3V833M834.9 866.3V835.4M836.6 866.3V839.5M838.3 866.3V837.1M840 866.3V825.4M841.7 866.3V840.3M843.4 866.3V824.6M845.1 866.3V841.4M846.9 866.3V845.1M848.6 866.3V826.3M850.3 866.3V824.9M852 866.3V825M853.7 866.3V835.4M855.4 866.3V832.9M857.1 866.3V822.8M858.8 866.3V832.7M860.5 866.3V824.8M862.3 866.3V850.5M864 866.3V835.4M865.7 866.3V833.2M867.4 866.3V832.8M869.1 866.3V828.3M870.8 866.3V852.7M872.5 866.3V844.9M874.2 866.3V840.1M875.9 866.3V828.2M877.7 866.3V850.9M879.4 866.3V852.2M881.1 866.3V847.9M882.8 866.3V845.7M884.5 866.3V832M886.2 866.3V824.7M887.9 866.3V839.7M889.6 866.3V818.2M891.3 866.3V836.7M893.1 866.3V825.4M894.8 866.3V832.3M896.5 866.3V826.8M898.2 866.3V820.9M899.9 866.3V849.7M901.6 866.3V843.2M903.3 866.3V849M905 866.3V844.3M906.7 866.3V837.9M908.5 866.3V822.3M910.2 866.3V826.6M911.9 866.3V846.6M913.6 866.3V837.6M915.3 866.3V837M917 866.3V843M918.7 866.3V839.9M920.4 866.3V833.2M922.1 866.3V849M923.9 866.3V843.9M925.6 866.3V837.1M927.3 866.3V847.5M929 866.3V832.4M930.7 866.3V853.8M932.4 866.3V824.7M934.1 866.3V825.9M935.8 866.3V830M937.5 866.3V830.4M939.3 866.3V834.4M941 866.3V828.2M942.7 866.3V835.8M944.4 866.3V845.2M946.1 866.3V824.7M947.8 866.3V837.8M949.5 866.3V832.9M951.2 866.3V839.3M952.9 866.3V849.6M954.7 866.3V834M956.4 866.3V842.6M958.1 866.3V836.8M959.8 866.3V828.5M961.5 866.3V832M963.2 866.3V830.7M964.9 866.3V845.4M966.6 866.3V830.7M968.3 866.3V834M970.1 866.3V832.1M971.8 866.3V828.1M973.5 866.3V839.9M975.2 866.3V820.6M976.9 866.3V844.7M978.6 866.3V833M980.3 866.3V846.1M982 866.3V825.2M983.7 866.3V820.1M985.5 866.3V821.1M987.2 866.3V827.5M988.9 866.3V845.4M990.6 866.3V842.8M992.3 866.3V843.5M994 866.3V845.2M995.7 866.3V831.5M997.4 866.3V822.6M999.1 866.3V834.6M1000.9 866.3V821.5M1002.6 866.3V821.7M1004.3 866.3V819.9M1006 866.3V828.5M1007.7 866.3V843.5M1009.4 866.3V834.7M1011.1 866.3V832.1M1012.8 866.3V838M1014.5 866.3V833.2M1016.3 866.3V834.5M1018 866.3V855.8M1019.7 866.3V850.8M1021.4 866.3V857.3M1023.1 866.3V860.7M1026.5 866.3V818.6M1028.2 866.3V843.5M1029.9 866.3V862.6M1031.7 866.3V858M1033.4 866.3V861.4M1035.1 866.3V863.6M1036.8 866.3V855.6M1038.5 866.3V860.2M1040.2 866.3V848M1041.9 866.3V843M1043.6 866.3V855.6M1045.3 866.3V852.8M1047.1 866.3V840.6M1048.8 866.3V851.1M1050.5 866.3V837.2M1052.2 866.3V838.7M1053.9 866.3V839.6M1055.6 866.3V832.9M1057.3 866.3V828.5M1059 866.3V824.3M1060.7 866.3V836.1M1062.5 866.3V827.7M1064.2 866.3V837M1065.9 866.3V825.6M1067.6 866.3V829.8M1069.3 866.3V820.2M1071 866.3V838.8M1072.7 866.3V824.9M1074.4 866.3V829.9M1076.1 866.3V837.3M1077.9 866.3V827.3M1079.6 866.3V822.4M1081.3 866.3V827.7M1083 866.3V837.6M1084.7 866.3V842M1086.4 866.3V825.2M1088.1 866.3V842.7M1089.8 866.3V833.4M1091.5 866.3V836.8M1093.3 866.3V851.4M1095 866.3V820.2M1096.7 866.3V842.6M1098.4 866.3V858.7M1100.1 866.3V838.7M1101.8 866.3V846M1103.5 866.3V827M1105.2 866.3V840.4M1106.9 866.3V852.1M1108.7 866.3V809.7M1110.4 866.3V821.4M1112.1 866.3V832.7M1113.8 866.3V816.5M1115.5 866.3V823.6M1117.2 866.3V851.1M1118.9 866.3V847.1M1120.6 866.3V833M1122.3 866.3V840.7M1124 866.3V839.5M1125.8 866.3V833.6M1127.5 866.3V831M1129.2 866.3V826.8M1130.9 866.3V819.1M1132.6 866.3V836M1134.3 866.3V831.8M1136 866.3V838.5M1137.7 866.3V837.2M1139.4 866.3V849.7M1141.2 866.3V834.1M1142.9 866.3V842.7M1144.6 866.3V838.8M1146.3 866.3V827.2M1148 866.3V832.1M1149.7 866.3V821.7M1151.4 866.3V822.1M1153.1 866.3V827.4M1154.8 866.3V832.2M1156.6 866.3V834.1M1158.3 866.3V825.6M1160 866.3V835.5M1161.7 866.3V834M1163.4 866.3V845.3M1165.1 866.3V832.8M1166.8 866.3V846.4M1168.5 866.3V832.9M1170.2 866.3V834.5M1172 866.3V825.6M1173.7 866.3V820.6M1175.4 866.3V838.8M1177.1 866.3V849.8M1178.8 866.3V846.5M1180.5 866.3V838.3M1182.2 866.3V834.3M1183.9 866.3V831M1185.6 866.3V840.4M1187.4 866.3V830.8M1189.1 866.3V825.5M1190.8 866.3V837.3M1192.5 866.3V833.4M1194.2 866.3V833.9M1195.9 866.3V825.4M1197.6 866.3V855.2M1199.3 866.3V842M1201 866.3V827.9M1202.8 866.3V823.5M1204.5 866.3V843.9M1206.2 866.3V819M1207.9 866.3V850.6M1209.6 866.3V835.1M1211.3 866.3V836.2M1213 866.3V840.2M1214.7 866.3V817.4M1216.4 866.3V842M1218.2 866.3V822.6M1219.9 866.3V838.5M1221.6 866.3V844M1223.3 866.3V831.2M1225 866.3V850.7M1226.7 866.3V853.1M1228.4 866.3V837.9M1230.1 866.3V837.5M1231.8 866.3V849.4M1233.6 866.3V824M1235.3 866.3V839.5M1237 866.3V865.7M1238.7 866.3V820.6M1240.4 866.3V828.1M1242.1 866.3V840M1243.8 866.3V832.9M1245.5 866.3V844.8M1247.2 866.3V846.8M1249 866.3V825.3M1250.7 866.3V826.8M1252.4 866.3V830.3M1254.1 866.3V833M1255.8 866.3V829.5M1257.5 866.3V823.9M1259.2 866.3V824.6M1260.9 866.3V827.2M1262.6 866.3V835.3M1264.4 866.3V835M1266.1 866.3V853.8M1267.8 866.3V835.2M1269.5 866.3V828.7M1271.2 866.3V831.2M1272.9 866.3V831.5M1274.6 866.3V829.5M1276.3 866.3V838M1278 866.3V828.3M1279.8 866.3V831.4M1281.5 866.3V838.6M1283.2 866.3V820.6M1284.9 866.3V830.9M1286.6 866.3V842.7M1288.3 866.3V832.8M1290 866.3V833M1291.7 866.3V839.5M1293.4 866.3V843.8M1295.2 866.3V826.3M1296.9 866.3V831.3M1298.6 866.3V836.7M1300.3 866.3V831.5M1302 866.3V816.5M1303.7 866.3V823.4M1305.4 866.3V823.3M1307.1 866.3V822.5M1308.8 866.3V836.6M1310.6 866.3V835.1M1312.3 866.3V845.3M1314 866.3V828M1315.7 866.3V829.1M1317.4 866.3V833.5M1319.1 866.3V823.2M1320.8 866.3V814.2M1322.5 866.3V840.3M1324.2 866.3V838.6M1326 866.3V837.4M1327.7 866.3V836.1M1329.4 866.3V845.9M1331.1 866.3V829.5M1332.8 866.3V839.9M1334.5 866.3V834M1336.2 866.3V843.5M1337.9 866.3V843M1339.6 866.3V832.1M1341.4 866.3V831.5M1343.1 866.3V826.7M1344.8 866.3V825.3M1346.5 866.3V827.5M1348.2 866.3V850.1M1349.9 866.3V842.1M1351.6 866.3V840M1353.3 866.3V833.9M1355 866.3V837.7M1356.8 866.3V810.4M1358.5 866.3V843.9M1360.2 866.3V837.1M1361.9 866.3V846M1363.6 866.3V832.5M1365.3 866.3V838.9M1367 866.3V839M1368.7 866.3V830.8M1370.4 866.3V831.1M1372.2 866.3V842.2M1373.9 866.3V844.9M1375.6 866.3V842.8M1377.3 866.3V812.2M1379 866.3V840.9M1380.7 866.3V832.5M1382.4 866.3V831.7M1384.1 866.3V821.6M1385.8 866.3V834M1387.6 866.3V838.2M1389.3 866.3V833.9M1391 866.3V822.7M1392.7 866.3V834.3M1394.4 866.3V827.8M1396.1 866.3V838.2M1397.8 866.3V842.1M1399.5 866.3V829.7M1401.2 866.3V820.4M1403 866.3V811.6M1404.7 866.3V830.3M1406.4 866.3V839.8M1408.1 866.3V826.5M1409.8 866.3V829.2M1411.5 866.3V845.9M1413.2 866.3V832.4M1414.9 866.3V847.8M1416.6 866.3V832.9M1418.4 866.3V841M1420.1 866.3V828.8M1421.8 866.3V838.4M1423.5 866.3V827.6M1425.2 866.3V836.2M1426.9 866.3V830.9M1428.6 866.3V824.7M1430.3 866.3V826.9M1432 866.3V835.8M1433.8 866.3V826.3M1435.5 866.3V830.8M1437.2 866.3V810.4M1438.9 866.3V837M1440.6 866.3V824.2M1442.3 866.3V834.8M1444 866.3V822.6M1445.7 866.3V838M1447.4 866.3V818.8M1449.2 866.3V827.2M1450.9 866.3V824.9M1452.6 866.3V831.3M1454.3 866.3V824M1456 866.3V827.6M1457.7 866.3V829.1M1459.4 866.3V832.6M1461.1 866.3V809M1462.8 866.3V828M1464.6 866.3V824.4M1466.3 866.3V825.9M1468 866.3V829.8M1469.7 866.3V837.4M1471.4 866.3V819.5M1473.1 866.3V831.2M1474.8 866.3V835.3M1476.5 866.3V813.8M1478.2 866.3V833.6M1480 866.3V814.7M1481.7 866.3V810.6M1483.4 866.3V819.2M1485.1 866.3V815.3M1486.8 866.3V823.9M1488.5 866.3V821.3M1490.2 866.3V816M1491.9 866.3V834.6M1493.6 866.3V823.1M1495.4 866.3V825.5M1497.1 866.3V833.4M1498.8 866.3V845.2M1500.5 866.3V846.8M1502.2 866.3V836.6M1503.9 866.3V831.5M1505.6 866.3V839M1507.3 866.3V813.8M1509 866.3V822.5M1510.8 866.3V826.2M1512.5 866.3V832.9M1514.2 866.3V825.3M1515.9 866.3V818.2M1517.6 866.3V833M1519.3 866.3V831.9M1521 866.3V839.5M1522.7 866.3V827.4M1524.4 866.3V830.1M1526.2 866.3V836.6M1527.9 866.3V832M1529.6 866.3V845.4M1531.3 866.3V827.1M1533 866.3V838.1M1534.7 866.3V833.4M1536.4 866.3V839.2M1538.1 866.3V849.4M1539.8 866.3V837.3M1541.6 866.3V845.1M1543.3 866.3V839.1M1545 866.3V829M1546.7 866.3V850.3M1548.4 866.3V840.9M1550.1 866.3V825.6M1551.8 866.3V844.4M1553.5 866.3V843.3M1555.2 866.3V837.8M1557 866.3V840.8M1558.7 866.3V834.2M1560.4 866.3V846.9M1562.1 866.3V831.7M1563.8 866.3V845.6M1565.5 866.3V848M1567.2 866.3V825.7M1568.9 866.3V830.5M1570.6 866.3V848.6M1572.4 866.3V850.3M1574.1 866.3V830.6M1575.8 866.3V842.2M1577.5 866.3V816M1579.2 866.3V816.5M1580.9 866.3V826.1M1582.6 866.3V819.1M1584.3 866.3V827.9M1586 866.3V823.6M1587.8 866.3V822.7M1589.5 866.3V817M1591.2 866.3V820.8M1592.9 866.3V817.4M1594.6 866.3V816.6M1596.3 866.3V822.3M1598 866.3V829.4M1599.7 866.3V817.5M1601.4 866.3V821.9M1603.2 866.3V820.4M1604.9 866.3V822.7M1606.6 866.3V819M1608.3 866.3V820.9M1610 866.3V820.3M1611.7 866.3V819.7M1613.4 866.3V802.8M1615.1 866.3V811.3M1616.8 866.3V814.8M1618.6 866.3V818.8M1620.3 866.3V811.3M1622 866.3V806.7M1623.7 866.3V806.3M1625.4 866.3V817.1M1627.1 866.3V817M1628.8 866.3V822.4M1630.5 866.3V810M1632.2 866.3V835.1M1634 866.3V821.5M1635.7 866.3V839M1637.4 866.3V834.8M1639.1 866.3V834.6M1640.8 866.3V837.9M1642.5 866.3V826.6M1644.2 866.3V823M1645.9 866.3V816M1647.6 866.3V842.2M1649.4 866.3V836.4M1651.1 866.3V828.2M1652.8 866.3V840.2M1654.5 866.3V839.5M1656.2 866.3V825.1M1657.9 866.3V845.7M1659.6 866.3V834M1661.3 866.3V838.5M1663 866.3V836.5M1664.8 866.3V838.6M1666.5 866.3V834.2M1668.2 866.3V832.2M1669.9 866.3V848.1M1671.6 866.3V834.2M1673.3 866.3V839M1675 866.3V845.9M1676.7 866.3V836.4M1678.4 866.3V841.5M1680.2 866.3V828.2M1681.9 866.3V854.5M1683.6 866.3V842.6M1685.3 866.3V836.9M1687 866.3V835.5M1688.7 866.3V841.9M1690.4 866.3V838.4M1692.1 866.3V836.6M1693.8 866.3V840.6M1695.6 866.3V821M1697.3 866.3V826.4M1699 866.3V846.5M1700.7 866.3V829.4M1702.4 866.3V832.4M1704.1 866.3V834.8M1705.8 866.3V844.9M1707.5 866.3V850.2M1709.2 866.3V843.6M1711 866.3V837.6M1712.7 866.3V842M1714.4 866.3V835.3M1716.1 866.3V850.4M1717.8 866.3V833.3M1719.5 866.3V832.1M1721.2 866.3V837.1M1722.9 866.3V836.4M1724.6 866.3V819.6M1726.4 866.3V837.2M1728.1 866.3V850M1729.8 866.3V837.2M1731.5 866.3V829.6M1733.2 866.3V833.5M1734.9 866.3V828.4M1736.6 866.3V831.7M1738.3 866.3V809.1M1740 866.3V845.2M1741.8 866.3V847.4M1743.5 866.3V837.3M1745.2 866.3V829.7M1746.9 866.3V837.3M1748.6 866.3V834.1M1750.3 866.3V827.3M1752 866.3V841.4M1753.7 866.3V841.9M1755.4 866.3V839.9M1757.2 866.3V841.6M1758.9 866.3V835.2M1760.6 866.3V844.9M1762.3 866.3V842.6M1764 866.3V821M1765.7 866.3V851M1767.4 866.3V835.6M1769.1 866.3V848.7M1770.8 866.3V838.2M1772.6 866.3V837.5M1774.3 866.3V846.7M1776 866.3V854.3M1777.7 866.3V846.3M1779.4 866.3V831.1M1781.1 866.3V834.1M1782.8 866.3V848M1784.5 866.3V852.5M1786.2 866.3V845M1788 866.3V826.8M1789.7 866.3V840.2M1791.4 866.3V835.4M1793.1 866.3V844.9M1794.8 866.3V832.4M1796.5 866.3V838.3M1798.2 866.3V817M1799.9 866.3V826.3M1801.6 866.3V840.9M1803.4 866.3V844.6M1805.1 866.3V822.6M1806.8 866.3V835.1M1808.5 866.3V842.3M1810.2 866.3V839M1811.9 866.3V824.3M1813.6 866.3V831M1815.3 866.3V821.1M1817 866.3V827.8M1818.8 866.3V831.4M1820.5 866.3V836.4M1822.2 866.3V827.6M1823.9 866.3V850.4M1825.6 866.3V835.8M1827.3 866.3V845.3M1829 866.3V858M1830.7 866.3V861.4M1832.4 866.3V858M1834.2 866.3V831.1M1835.9 866.3V847.2M1837.6 866.3V829M1839.3 866.3V824M1841 866.3V843.8M1842.7 866.3V830.8M1844.4 866.3V828.2M1846.1 866.3V840.9M1847.8 866.3V838.5M1849.6 866.3V848.8M1851.3 866.3V848.9M1853 866.3V853.8M1854.7 866.3V839.5M1856.4 866.3V822.8M1858.1 866.3V851.5M1859.8 866.3V849.3M1861.5 866.3V837.9M1863.2 866.3V824.5M1865 866.3V837M1866.7 866.3V840.5M1868.4 866.3V830.7M1870.1 866.3V826.8M1871.8 866.3V834.6M1873.5 866.3V845.6M1875.2 866.3V842.1M1876.9 866.3V860.5M1878.6 866.3V833.9M1880.4 866.3V837M1882.1 866.3V828.6M1883.8 866.3V842M1885.5 866.3V828.1M1887.2 866.3V816.5M1888.9 866.3V823.1M1890.6 866.3V844.8M1892.3 866.3V844.5M1894 866.3V854.9M1895.8 866.3V839.5M1897.5 866.3V828.9M1899.2 866.3V823.3M1900.9 866.3V832.4M1902.6 866.3V840.1M1904.3 866.3V825.2M1906 866.3V842.7M1907.7 866.3V839.6M1909.4 866.3V838M1911.2 866.3V837.3M1912.9 866.3V824.6M1914.6 866.3V832.4M1916.3 866.3V851.7M1918 866.3V838.9M1919.7 866.3V828.8M1921.4 866.3V841M1923.1 866.3V828.2M1924.8 866.3V831.5M1926.6 866.3V811.4M1928.3 866.3V835.6M1930 866.3V848.4M1931.7 866.3V849.7M1933.4 866.3V834.8M1935.1 866.3V832M1936.8 866.3V835.2M1938.5 866.3V839.5M1940.2 866.3V834.8M1942 866.3V840.9M1943.7 866.3V843.7M1945.4 866.3V845.7M1947.1 866.3V832M1948.8 866.3V840.4M1950.5 866.3V826.5M1952.2 866.3V829.3M1953.9 866.3V822.9M1955.6 866.3V833.1M1957.4 866.3V826.3M1959.1 866.3V838.7M1960.8 866.3V829.1M1962.5 866.3V829.1M1964.2 866.3V837.8" fill="none" stroke="#FF766C" stroke-width="4.0" stroke-linecap="round"/>
<path d="M1534.4 866.3L1536.2 564.9L1536.6 564.9L1538.4 866.3Z" fill="#FF766C" stroke="#FF766C" stroke-width="4.4" stroke-linejoin="round"/>
</g>
<rect x="253.1" y="521.5" width="1711.1" height="344.8" fill="none" stroke="#000" stroke-width="4.7"/>
<path d="M253.1 866.3H228.7M253.1 831.8H241.1M253.1 797.3H228.7M253.1 762.9H241.1M253.1 728.4H228.7M253.1 693.9H241.1M253.1 659.4H228.7M253.1 624.9H241.1M253.1 590.5H228.7M253.1 556H241.1M253.1 521.5H228.7M253.1 866.3V890.7M360 866.3V878.3M467 866.3V890.7M573.9 866.3V878.3M680.9 866.3V890.7M787.8 866.3V878.3M894.8 866.3V890.7M1001.7 866.3V878.3M1108.7 866.3V890.7M1215.6 866.3V878.3M1322.5 866.3V890.7M1429.5 866.3V878.3M1536.4 866.3V890.7M1643.4 866.3V878.3M1750.3 866.3V890.7M1857.3 866.3V878.3M1964.2 866.3V890.7" fill="none" stroke="#000" stroke-width="4.7"/>
<text id="y1_70" class="tk" text-anchor="end" transform="translate(211.85 880.10) scale(1.0300 1.0750)"><tspan dy="1.7">−</tspan><tspan dy="-1.7">70</tspan></text>
<text id="y1_60" class="tk" text-anchor="end" transform="translate(211.85 811.14) scale(1.0300 1.0750)"><tspan dy="1.7">−</tspan><tspan dy="-1.7">60</tspan></text>
<text id="y1_50" class="tk" text-anchor="end" transform="translate(211.85 742.18) scale(1.0300 1.0750)"><tspan dy="1.7">−</tspan><tspan dy="-1.7">50</tspan></text>
<text id="y1_40" class="tk" text-anchor="end" transform="translate(211.85 673.22) scale(1.0300 1.0750)"><tspan dy="1.7">−</tspan><tspan dy="-1.7">40</tspan></text>
<text id="y1_30" class="tk" text-anchor="end" transform="translate(211.85 604.26) scale(1.0300 1.0750)"><tspan dy="1.7">−</tspan><tspan dy="-1.7">30</tspan></text>
<text id="y1_20" class="tk" text-anchor="end" transform="translate(211.85 535.30) scale(1.0300 1.0750)"><tspan dy="1.7">−</tspan><tspan dy="-1.7">20</tspan></text>
<text id="x1_1400" class="tk" text-anchor="middle" transform="translate(253.70 947.70) scale(1.0300 1.0750)">1400</text>
<text id="x1_1425" class="tk" text-anchor="middle" transform="translate(467.59 947.70) scale(1.0300 1.0750)">1425</text>
<text id="x1_1450" class="tk" text-anchor="middle" transform="translate(681.48 947.70) scale(1.0300 1.0750)">1450</text>
<text id="x1_1475" class="tk" text-anchor="middle" transform="translate(895.36 947.70) scale(1.0300 1.0750)">1475</text>
<text id="x1_1500" class="tk" text-anchor="middle" transform="translate(1109.25 947.70) scale(1.0300 1.0750)">1500</text>
<text id="x1_1525" class="tk" text-anchor="middle" transform="translate(1323.14 947.70) scale(1.0300 1.0750)">1525</text>
<text id="x1_1550" class="tk" text-anchor="middle" transform="translate(1537.02 947.70) scale(1.0300 1.0750)">1550</text>
<text id="x1_1575" class="tk" text-anchor="middle" transform="translate(1750.91 947.70) scale(1.0300 1.0750)">1575</text>
<text id="x1_1600" class="tk" text-anchor="middle" transform="translate(1964.80 947.70) scale(1.0300 1.0750)">1600</text>
<text id="pump1" class="lg" style="font-size:53.30px" text-anchor="start" transform="translate(274.93 590.70)">Pump power</text>
<path d="M287.5 638.2H407" stroke="#FF766C" stroke-width="4.7" stroke-linecap="round" fill="none"/>
<text id="w1" class="lg" style="font-size:53.00px" text-anchor="start" transform="translate(420.26 655.75)">33W</text>
</g>
<g id="panel3">
<path d="M253.1 1040.9H1964.2M253.1 1109.8H1964.2M253.1 1178.8H1964.2M253.1 1247.8H1964.2M253.1 1316.7H1964.2" fill="none" stroke="#BEBEBE" stroke-width="2.4" stroke-dasharray="13.5 12.75"/>
<path d="M360 1349.8V1006.4M573.9 1349.8V1006.4M787.8 1349.8V1006.4M1001.7 1349.8V1006.4M1215.6 1349.8V1006.4M1429.5 1349.8V1006.4M1643.4 1349.8V1006.4M1857.3 1349.8V1006.4" fill="none" stroke="#BEBEBE" stroke-width="2.4" stroke-dasharray="13.5 12.75"/>
<g clip-path="url(#c2)">
<path d="M253.1 1351.2V1311.7M254.8 1351.2V1318.2M256.5 1351.2V1327.6M258.2 1351.2V1321.6M259.9 1351.2V1328.4M261.7 1351.2V1312.7M263.4 1351.2V1317.7M265.1 1351.2V1298M266.8 1351.2V1332.4M268.5 1351.2V1336.6M270.2 1351.2V1314.4M271.9 1351.2V1307.6M273.6 1351.2V1325.3M275.3 1351.2V1326.3M277.1 1351.2V1322.1M278.8 1351.2V1319.5M280.5 1351.2V1310.2M282.2 1351.2V1305.9M283.9 1351.2V1307.4M285.6 1351.2V1314.1M287.3 1351.2V1297.3M289 1351.2V1310.9M290.7 1351.2V1312.5M292.5 1351.2V1324.4M294.2 1351.2V1312.8M295.9 1351.2V1299.4M297.6 1351.2V1333.4M299.3 1351.2V1321.1M301 1351.2V1316.7M302.7 1351.2V1321.8M304.4 1351.2V1325.3M306.1 1351.2V1323.3M307.9 1351.2V1314.1M309.6 1351.2V1314.4M311.3 1351.2V1312.8M313 1351.2V1349.8M316.4 1351.2V1349.8M318.1 1351.2V1317.6M319.8 1351.2V1318.4M321.5 1351.2V1308.8M323.3 1351.2V1318.2M325 1351.2V1325.9M326.7 1351.2V1330.3M328.4 1351.2V1318.8M330.1 1351.2V1315.2M331.8 1351.2V1321.9M333.5 1351.2V1314.4M335.2 1351.2V1309.1M336.9 1351.2V1327.4M338.7 1351.2V1316M340.4 1351.2V1326.9M342.1 1351.2V1321.6M343.8 1351.2V1320.2M345.5 1351.2V1310.9M347.2 1351.2V1309.6M348.9 1351.2V1320.4M350.6 1351.2V1311.3M352.3 1351.2V1327.7M354.1 1351.2V1336.5M355.8 1351.2V1320.5M357.5 1351.2V1308.6M359.2 1351.2V1312.8M360.9 1351.2V1305.4M362.6 1351.2V1318.3M364.3 1351.2V1317.6M366 1351.2V1323.1M367.7 1351.2V1303.6M369.5 1351.2V1314.5M371.2 1351.2V1305.2M372.9 1351.2V1315.9M374.6 1351.2V1304.1M376.3 1351.2V1327.9M378 1351.2V1312.4M379.7 1351.2V1310M381.4 1351.2V1309.1M383.1 1351.2V1327.4M384.9 1351.2V1313.3M386.6 1351.2V1297.9M388.3 1351.2V1312.7M390 1351.2V1320.6M391.7 1351.2V1320.5M393.4 1351.2V1313.3M395.1 1351.2V1298M396.8 1351.2V1323.6M398.5 1351.2V1312.3M400.3 1351.2V1315.6M402 1351.2V1333.9M403.7 1351.2V1316.8M405.4 1351.2V1314.6M407.1 1351.2V1317.7M408.8 1351.2V1337.1M410.5 1351.2V1323.1M412.2 1351.2V1316.3M413.9 1351.2V1316.9M415.7 1351.2V1308.5M417.4 1351.2V1308.7M419.1 1351.2V1316M420.8 1351.2V1305.6M422.5 1351.2V1305.3M424.2 1351.2V1298.2M425.9 1351.2V1315.6M427.6 1351.2V1313.1M429.3 1351.2V1305M431.1 1351.2V1311.5M432.8 1351.2V1331.6M434.5 1351.2V1313.6M436.2 1351.2V1313.4M437.9 1351.2V1310.5M439.6 1351.2V1327.5M441.3 1351.2V1313.6M443 1351.2V1307.9M444.7 1351.2V1325.9M446.5 1351.2V1316.3M448.2 1351.2V1321.6M449.9 1351.2V1312.3M451.6 1351.2V1307M453.3 1351.2V1316.8M455 1351.2V1324.3M456.7 1351.2V1318.8M458.4 1351.2V1316.9M460.1 1351.2V1313.4M461.9 1351.2V1317.2M463.6 1351.2V1338.4M465.3 1351.2V1324.1M467 1351.2V1323M468.7 1351.2V1320M470.4 1351.2V1320.6M472.1 1351.2V1317M473.8 1351.2V1307.9M475.5 1351.2V1340.1M477.3 1351.2V1343.5M479 1351.2V1340.1M480.7 1351.2V1326.8M482.4 1351.2V1317.3M484.1 1351.2V1327.6M485.8 1351.2V1332.4M487.5 1351.2V1302.3M489.2 1351.2V1315.9M490.9 1351.2V1316.9M492.7 1351.2V1319M494.4 1351.2V1326.3M496.1 1351.2V1320.5M497.8 1351.2V1316M499.5 1351.2V1321.7M501.2 1351.2V1311.6M502.9 1351.2V1325.7M504.6 1351.2V1316.7M506.3 1351.2V1308.3M508.1 1351.2V1318.9M509.8 1351.2V1316.1M511.5 1351.2V1310.3M513.2 1351.2V1313.1M514.9 1351.2V1330.2M516.6 1351.2V1316.5M518.3 1351.2V1313.7M520 1351.2V1318.4M521.7 1351.2V1314.4M523.5 1351.2V1316.4M525.2 1351.2V1322M526.9 1351.2V1310.6M528.6 1351.2V1300.8M530.3 1351.2V1311.7M532 1351.2V1322.9M533.7 1351.2V1320.2M535.4 1351.2V1314.2M537.1 1351.2V1312.3M538.9 1351.2V1314.3M540.6 1351.2V1298.7M542.3 1351.2V1319.7M544 1351.2V1324.4M545.7 1351.2V1325.3M547.4 1351.2V1325.6M549.1 1351.2V1320.1M550.8 1351.2V1320.3M552.5 1351.2V1312.5M554.3 1351.2V1310.4M556 1351.2V1320.4M557.7 1351.2V1311.5M559.4 1351.2V1310.5M561.1 1351.2V1323.5M562.8 1351.2V1321.4M564.5 1351.2V1315.6M566.2 1351.2V1307.6M567.9 1351.2V1298.4M569.7 1351.2V1310.2M571.4 1351.2V1298M573.1 1351.2V1321.9M574.8 1351.2V1323.9M576.5 1351.2V1308.4M578.2 1351.2V1321.1M579.9 1351.2V1325.2M581.6 1351.2V1318M583.3 1351.2V1312.6M585.1 1351.2V1321M586.8 1351.2V1324.4M588.5 1351.2V1318.5M590.2 1351.2V1304.9M591.9 1351.2V1326.5M593.6 1351.2V1324.5M595.3 1351.2V1307.4M597 1351.2V1329.9M598.7 1351.2V1317.5M600.5 1351.2V1315.2M602.2 1351.2V1306.4M603.9 1351.2V1301.4M605.6 1351.2V1314.7M607.3 1351.2V1314.4M609 1351.2V1304.8M610.7 1351.2V1304.9M612.4 1351.2V1320.2M614.1 1351.2V1319.1M615.9 1351.2V1310M617.6 1351.2V1312.6M619.3 1351.2V1318.6M621 1351.2V1322M622.7 1351.2V1334M624.4 1351.2V1315.3M626.1 1351.2V1324.3M627.8 1351.2V1310.9M629.5 1351.2V1314.6M631.3 1351.2V1319.8M633 1351.2V1303.9M634.7 1351.2V1319.4M636.4 1351.2V1313.8M638.1 1351.2V1323.7M639.8 1351.2V1317.8M641.5 1351.2V1313.7M643.2 1351.2V1316.5M644.9 1351.2V1309M646.7 1351.2V1320.1M648.4 1351.2V1319.2M650.1 1351.2V1323.4M651.8 1351.2V1316.1M653.5 1351.2V1319.2M655.2 1351.2V1305.3M656.9 1351.2V1304.7M658.6 1351.2V1333.9M660.3 1351.2V1307.2M662.1 1351.2V1306.8M663.8 1351.2V1317.8M665.5 1351.2V1328.8M667.2 1351.2V1320.6M668.9 1351.2V1317.4M670.6 1351.2V1307.5M672.3 1351.2V1331.8M674 1351.2V1309.2M675.7 1351.2V1318.3M677.5 1351.2V1324.1M679.2 1351.2V1320.6M680.9 1351.2V1316.6M682.6 1351.2V1323.1M684.3 1351.2V1340M686 1351.2V1326.3M687.7 1351.2V1324.6M689.4 1351.2V1314.8M691.1 1351.2V1327.8M692.9 1351.2V1307M694.6 1351.2V1316.5M696.3 1351.2V1330.3M698 1351.2V1328.1M699.7 1351.2V1308.1M701.4 1351.2V1313.8M703.1 1351.2V1315.4M704.8 1351.2V1315M706.5 1351.2V1295.2M708.3 1351.2V1322.4M710 1351.2V1310.2M711.7 1351.2V1328.5M713.4 1351.2V1304M715.1 1351.2V1332.6M716.8 1351.2V1323.1M718.5 1351.2V1311.5M720.2 1351.2V1311.1M721.9 1351.2V1329.3M723.7 1351.2V1310.1M725.4 1351.2V1315M727.1 1351.2V1329M728.8 1351.2V1317.6M730.5 1351.2V1300.1M732.2 1351.2V1325M733.9 1351.2V1313.9M735.6 1351.2V1303.5M737.3 1351.2V1308.1M739.1 1351.2V1316.2M740.8 1351.2V1325.2M742.5 1351.2V1310.7M744.2 1351.2V1318.7M745.9 1351.2V1317.8M747.6 1351.2V1314.4M749.3 1351.2V1316.1M751 1351.2V1319.1M752.7 1351.2V1323.4M754.5 1351.2V1309.5M756.2 1351.2V1316.3M757.9 1351.2V1305.5M759.6 1351.2V1304.9M761.3 1351.2V1313.6M763 1351.2V1315.8M764.7 1351.2V1307.6M766.4 1351.2V1313.2M768.1 1351.2V1307.8M769.9 1351.2V1312.2M771.6 1351.2V1304.8M773.3 1351.2V1313.9M775 1351.2V1312.6M776.7 1351.2V1312.5M778.4 1351.2V1321.9M780.1 1351.2V1314.3M781.8 1351.2V1322.5M783.5 1351.2V1325.2M785.3 1351.2V1304.2M787 1351.2V1323.4M788.7 1351.2V1317.4M790.4 1351.2V1328.3M792.1 1351.2V1315.9M793.8 1351.2V1318.9M795.5 1351.2V1329.8M797.2 1351.2V1315.3M798.9 1351.2V1309.2M800.7 1351.2V1305M802.4 1351.2V1310.7M804.1 1351.2V1319.9M805.8 1351.2V1319M807.5 1351.2V1298.8M809.2 1351.2V1323.5M810.9 1351.2V1318.7M812.6 1351.2V1316.1M814.3 1351.2V1323.3M816.1 1351.2V1313.9M817.8 1351.2V1308.4M819.5 1351.2V1317.3M821.2 1351.2V1320.2M822.9 1351.2V1318.4M824.6 1351.2V1323.1M826.3 1351.2V1309M828 1351.2V1311.4M829.7 1351.2V1311.3M831.5 1351.2V1329.8M833.2 1351.2V1318.8M834.9 1351.2V1313.6M836.6 1351.2V1306.5M838.3 1351.2V1323.2M840 1351.2V1304.1M841.7 1351.2V1315.8M843.4 1351.2V1332.3M845.1 1351.2V1311.9M846.9 1351.2V1311.7M848.6 1351.2V1300.9M850.3 1351.2V1324M852 1351.2V1303.9M853.7 1351.2V1317.4M855.4 1351.2V1310M857.1 1351.2V1307.1M858.8 1351.2V1314.9M860.5 1351.2V1315.5M862.3 1351.2V1313.5M864 1351.2V1317.6M865.7 1351.2V1316.5M867.4 1351.2V1314.7M869.1 1351.2V1336.7M870.8 1351.2V1328.7M872.5 1351.2V1306.2M874.2 1351.2V1306.5M875.9 1351.2V1315.5M877.7 1351.2V1334M879.4 1351.2V1326M881.1 1351.2V1317.1M882.8 1351.2V1313.6M884.5 1351.2V1320.7M886.2 1351.2V1316.1M887.9 1351.2V1324.3M889.6 1351.2V1306.8M891.3 1351.2V1305.5M893.1 1351.2V1314.4M894.8 1351.2V1311.9M896.5 1351.2V1312.6M898.2 1351.2V1314.9M899.9 1351.2V1311.7M901.6 1351.2V1318M903.3 1351.2V1315.3M905 1351.2V1308.3M906.7 1351.2V1319.6M908.5 1351.2V1320.2M910.2 1351.2V1315.4M911.9 1351.2V1329.8M913.6 1351.2V1327.6M915.3 1351.2V1315.8M917 1351.2V1318.3M918.7 1351.2V1315.1M920.4 1351.2V1331.4M922.1 1351.2V1304.6M923.9 1351.2V1319.9M925.6 1351.2V1324.2M927.3 1351.2V1319.3M929 1351.2V1317.3M930.7 1351.2V1329.2M932.4 1351.2V1329.5M934.1 1351.2V1318.4M935.8 1351.2V1327.1M937.5 1351.2V1331.3M939.3 1351.2V1325.1M941 1351.2V1307.4M942.7 1351.2V1327.2M944.4 1351.2V1303M946.1 1351.2V1332.3M947.8 1351.2V1307.8M949.5 1351.2V1310.9M951.2 1351.2V1303.8M952.9 1351.2V1318.2M954.7 1351.2V1309.1M956.4 1351.2V1314M958.1 1351.2V1328.7M959.8 1351.2V1318M961.5 1351.2V1319.2M963.2 1351.2V1309.9M964.9 1351.2V1329.8M966.6 1351.2V1313M968.3 1351.2V1320M970.1 1351.2V1309.6M971.8 1351.2V1319.6M973.5 1351.2V1329.3M975.2 1351.2V1331.4M976.9 1351.2V1323.7M978.6 1351.2V1318.5M980.3 1351.2V1325.1M982 1351.2V1328.1M983.7 1351.2V1301.9M985.5 1351.2V1327.4M987.2 1351.2V1330.8M988.9 1351.2V1331.1M990.6 1351.2V1323.2M992.3 1351.2V1327.3M994 1351.2V1324.9M995.7 1351.2V1339.2M997.4 1351.2V1326.7M999.1 1351.2V1319.7M1000.9 1351.2V1322.2M1002.6 1351.2V1339.4M1004.3 1351.2V1328.9M1006 1351.2V1322.2M1007.7 1351.2V1310.7M1009.4 1351.2V1306.8M1011.1 1351.2V1314.8M1012.8 1351.2V1324.1M1014.5 1351.2V1313.1M1016.3 1351.2V1301.8M1018 1351.2V1320.3M1019.7 1351.2V1314.8M1021.4 1351.2V1323.1M1023.1 1351.2V1338.8M1024.8 1351.2V1325.2M1026.5 1351.2V1314.5M1028.2 1351.2V1335.6M1029.9 1351.2V1321M1031.7 1351.2V1325.7M1033.4 1351.2V1337.3M1035.1 1351.2V1340.8M1036.8 1351.2V1337.3M1038.5 1351.2V1313.5M1040.2 1351.2V1338.1M1041.9 1351.2V1311M1043.6 1351.2V1315.2M1045.3 1351.2V1307.3M1047.1 1351.2V1318.9M1048.8 1351.2V1322.2M1050.5 1351.2V1341.7M1052.2 1351.2V1316.4M1053.9 1351.2V1329.6M1055.6 1351.2V1324.2M1057.3 1351.2V1330.9M1059 1351.2V1310.9M1060.7 1351.2V1325.4M1062.5 1351.2V1314.5M1064.2 1351.2V1333.1M1065.9 1351.2V1322M1067.6 1351.2V1321.8M1069.3 1351.2V1329.7M1071 1351.2V1323.2M1072.7 1351.2V1329.6M1074.4 1351.2V1321M1076.1 1351.2V1320.8M1077.9 1351.2V1311.5M1079.6 1351.2V1333.6M1081.3 1351.2V1318.8M1083 1351.2V1307.5M1084.7 1351.2V1315.9M1086.4 1351.2V1317.6M1088.1 1351.2V1325.4M1089.8 1351.2V1334.2M1091.5 1351.2V1335M1093.3 1351.2V1333.3M1095 1351.2V1330.7M1096.7 1351.2V1319M1098.4 1351.2V1321.2M1100.1 1351.2V1300.1M1101.8 1351.2V1308.5M1103.5 1351.2V1332.9M1105.2 1351.2V1328.5M1106.9 1351.2V1326.1M1108.7 1351.2V1316.6M1110.4 1351.2V1318.6M1112.1 1351.2V1325.9M1113.8 1351.2V1325.7M1115.5 1351.2V1325.9M1117.2 1351.2V1322M1118.9 1351.2V1322.1M1120.6 1351.2V1323.1M1122.3 1351.2V1323.3M1124 1351.2V1315.8M1125.8 1351.2V1326.2M1127.5 1351.2V1327.3M1129.2 1351.2V1331.6M1130.9 1351.2V1318.7M1132.6 1351.2V1322.5M1134.3 1351.2V1311M1136 1351.2V1334.7M1137.7 1351.2V1315.3M1139.4 1351.2V1309.8M1141.2 1351.2V1309.1M1142.9 1351.2V1307.8M1144.6 1351.2V1304.3M1146.3 1351.2V1311.6M1148 1351.2V1305.9M1149.7 1351.2V1311.5M1151.4 1351.2V1312.9M1153.1 1351.2V1318.6M1154.8 1351.2V1321.1M1156.6 1351.2V1331.2M1158.3 1351.2V1325.4M1160 1351.2V1323.5M1161.7 1351.2V1323.8M1163.4 1351.2V1323.6M1165.1 1351.2V1324.2M1166.8 1351.2V1316.5M1168.5 1351.2V1307M1170.2 1351.2V1324M1172 1351.2V1335.4M1173.7 1351.2V1301.1M1175.4 1351.2V1318.8M1177.1 1351.2V1306.8M1178.8 1351.2V1319M1180.5 1351.2V1310M1182.2 1351.2V1322.7M1183.9 1351.2V1317.7M1185.6 1351.2V1298M1187.4 1351.2V1317.9M1189.1 1351.2V1323.2M1190.8 1351.2V1329.6M1192.5 1351.2V1315.5M1194.2 1351.2V1316.4M1195.9 1351.2V1316.7M1197.6 1351.2V1314.5M1199.3 1351.2V1321M1201 1351.2V1321.2M1202.8 1351.2V1305.9M1204.5 1351.2V1325.7M1206.2 1351.2V1324.8M1207.9 1351.2V1323.5M1209.6 1351.2V1311.7M1211.3 1351.2V1332.1M1213 1351.2V1324.3M1214.7 1351.2V1317.1M1216.4 1351.2V1328.4M1218.2 1351.2V1320.7M1219.9 1351.2V1323.7M1221.6 1351.2V1326.8M1223.3 1351.2V1316.4M1225 1351.2V1317.7M1226.7 1351.2V1307.6M1228.4 1351.2V1319.8M1230.1 1351.2V1344.3M1231.8 1351.2V1330.9M1233.6 1351.2V1295.7M1235.3 1351.2V1319.3M1237 1351.2V1317M1238.7 1351.2V1321.7M1240.4 1351.2V1315.8M1242.1 1351.2V1317.3M1243.8 1351.2V1312.6M1245.5 1351.2V1313.7M1247.2 1351.2V1307.6M1249 1351.2V1315.6M1250.7 1351.2V1324.2M1252.4 1351.2V1310.6M1254.1 1351.2V1323.4M1255.8 1351.2V1317.8M1257.5 1351.2V1311.2M1259.2 1351.2V1310.4M1260.9 1351.2V1304.5M1262.6 1351.2V1320M1264.4 1351.2V1322M1266.1 1351.2V1303.8M1267.8 1351.2V1313.7M1269.5 1351.2V1319.3M1271.2 1351.2V1329.6M1272.9 1351.2V1315.2M1274.6 1351.2V1316.6M1276.3 1351.2V1318.5M1278 1351.2V1319.6M1279.8 1351.2V1330.8M1281.5 1351.2V1313.1M1283.2 1351.2V1329.4M1284.9 1351.2V1332.7M1286.6 1351.2V1331M1288.3 1351.2V1332.6M1290 1351.2V1320.4M1291.7 1351.2V1325.1M1293.4 1351.2V1333.1M1295.2 1351.2V1326M1296.9 1351.2V1317.8M1298.6 1351.2V1318.3M1300.3 1351.2V1324.9M1302 1351.2V1342.9M1303.7 1351.2V1329M1305.4 1351.2V1321.8M1307.1 1351.2V1326M1308.8 1351.2V1325.8M1310.6 1351.2V1340.7M1312.3 1351.2V1309.9M1314 1351.2V1307.3M1315.7 1351.2V1311.9M1317.4 1351.2V1319.1M1319.1 1351.2V1325M1320.8 1351.2V1340.9M1322.5 1351.2V1338.9M1324.2 1351.2V1339.5M1326 1351.2V1329.6M1327.7 1351.2V1326.4M1329.4 1351.2V1323.2M1331.1 1351.2V1342.2M1332.8 1351.2V1345.6M1334.5 1351.2V1342.2M1336.2 1351.2V1319.4M1337.9 1351.2V1325M1339.6 1351.2V1336.2M1341.4 1351.2V1330M1343.1 1351.2V1321.6M1344.8 1351.2V1324.8M1346.5 1351.2V1327.6M1348.2 1351.2V1326.9M1349.9 1351.2V1328.4M1351.6 1351.2V1326.7M1353.3 1351.2V1321.5M1355 1351.2V1335.6M1356.8 1351.2V1316.2M1358.5 1351.2V1336.3M1360.2 1351.2V1327.5M1361.9 1351.2V1317.5M1363.6 1351.2V1325.4M1365.3 1351.2V1324.4M1367 1351.2V1331.7M1368.7 1351.2V1322.1M1370.4 1351.2V1338.1M1372.2 1351.2V1326.6M1373.9 1351.2V1323.8M1375.6 1351.2V1315.7M1377.3 1351.2V1322.6M1379 1351.2V1326.1M1380.7 1351.2V1325.1M1382.4 1351.2V1325.4M1384.1 1351.2V1312.9M1385.8 1351.2V1318.4M1387.6 1351.2V1301.9M1389.3 1351.2V1324.3M1391 1351.2V1320M1392.7 1351.2V1349.2M1394.4 1351.2V1317.1M1396.1 1351.2V1324.3M1397.8 1351.2V1322.5M1399.5 1351.2V1331.5M1401.2 1351.2V1314.6M1403 1351.2V1302.3M1404.7 1351.2V1332.5M1406.4 1351.2V1327.5M1408.1 1351.2V1342.8M1409.8 1351.2V1334.6M1411.5 1351.2V1340.7M1413.2 1351.2V1317.1M1414.9 1351.2V1318.8M1416.6 1351.2V1315.8M1418.4 1351.2V1324.4M1420.1 1351.2V1313.4M1421.8 1351.2V1321M1423.5 1351.2V1317.1M1425.2 1351.2V1307.8M1426.9 1351.2V1316.2M1428.6 1351.2V1302.3M1430.3 1351.2V1325.7M1432 1351.2V1314.4M1433.8 1351.2V1301M1435.5 1351.2V1307.7M1437.2 1351.2V1317.6M1438.9 1351.2V1319M1440.6 1351.2V1320.1M1442.3 1351.2V1306M1444 1351.2V1321M1445.7 1351.2V1310.2M1447.4 1351.2V1308.2M1449.2 1351.2V1308.4M1450.9 1351.2V1310.4M1452.6 1351.2V1287M1454.3 1351.2V1290.6M1456 1351.2V1295.6M1457.7 1351.2V1292.7M1459.4 1351.2V1298.1M1461.1 1351.2V1304M1462.8 1351.2V1301.2M1464.6 1351.2V1301.2M1466.3 1351.2V1302.8M1468 1351.2V1302.9M1469.7 1351.2V1307.5M1471.4 1351.2V1303.8M1473.1 1351.2V1319.9M1474.8 1351.2V1310.2M1476.5 1351.2V1311.2M1478.2 1351.2V1309.9M1480 1351.2V1307.1M1481.7 1351.2V1300.9M1483.4 1351.2V1326.4M1485.1 1351.2V1316.6M1486.8 1351.2V1317.1M1488.5 1351.2V1323.3M1490.2 1351.2V1317M1491.9 1351.2V1309.8M1493.6 1351.2V1327.8M1495.4 1351.2V1312.8M1497.1 1351.2V1299.8M1498.8 1351.2V1305.6M1500.5 1351.2V1305.8M1502.2 1351.2V1319.8M1503.9 1351.2V1314.5M1505.6 1351.2V1311.8M1507.3 1351.2V1317M1509 1351.2V1305.3M1510.8 1351.2V1320.1M1512.5 1351.2V1325.7M1514.2 1351.2V1322.6M1515.9 1351.2V1325.1M1517.6 1351.2V1330.7M1519.3 1351.2V1326.3M1521 1351.2V1309.5M1522.7 1351.2V1320.5M1524.4 1351.2V1313.1M1526.2 1351.2V1317.4M1527.9 1351.2V1332.9M1529.6 1351.2V1313.2M1531.3 1351.2V1311.6M1533 1351.2V1307.8M1534.7 1351.2V1322M1536.4 1351.2V1314.7M1538.1 1351.2V1322.8M1539.8 1351.2V1313.1M1541.6 1351.2V1320.9M1543.3 1351.2V1329.4M1545 1351.2V1314M1546.7 1351.2V1309.2M1548.4 1351.2V1320.1M1550.1 1351.2V1315.2M1551.8 1351.2V1307M1553.5 1351.2V1306.9M1555.2 1351.2V1322.4M1557 1351.2V1314.8M1558.7 1351.2V1299.9M1560.4 1351.2V1321M1562.1 1351.2V1318.5M1563.8 1351.2V1321.4M1565.5 1351.2V1329.7M1567.2 1351.2V1323.1M1568.9 1351.2V1312.7M1570.6 1351.2V1315.7M1572.4 1351.2V1315.2M1574.1 1351.2V1318.7M1575.8 1351.2V1319.6M1577.5 1351.2V1332.7M1579.2 1351.2V1317M1580.9 1351.2V1301.6M1582.6 1351.2V1325.5M1584.3 1351.2V1322.5M1586 1351.2V1315M1587.8 1351.2V1323.3M1589.5 1351.2V1315.3M1591.2 1351.2V1323.8M1592.9 1351.2V1316.7M1594.6 1351.2V1317.6M1596.3 1351.2V1311.2M1598 1351.2V1327.9M1599.7 1351.2V1315.8M1601.4 1351.2V1317.6M1603.2 1351.2V1315.9M1604.9 1351.2V1300.4M1606.6 1351.2V1311.6M1608.3 1351.2V1307.2M1610 1351.2V1323.1M1611.7 1351.2V1310.7M1613.4 1351.2V1305.2M1615.1 1351.2V1314.1M1616.8 1351.2V1294.8M1618.6 1351.2V1315.8M1620.3 1351.2V1305.6M1622 1351.2V1302.8M1623.7 1351.2V1298.7M1625.4 1351.2V1322.7M1627.1 1351.2V1317.3M1628.8 1351.2V1318.4M1630.5 1351.2V1329.8M1632.2 1351.2V1317.6M1634 1351.2V1319.2M1635.7 1351.2V1325.1M1637.4 1351.2V1318.4M1639.1 1351.2V1322.4M1640.8 1351.2V1319.5M1642.5 1351.2V1329.1M1644.2 1351.2V1325.2M1645.9 1351.2V1323.6M1647.6 1351.2V1322.1M1649.4 1351.2V1333.1M1651.1 1351.2V1319.4M1652.8 1351.2V1322.7M1654.5 1351.2V1316.5M1656.2 1351.2V1320.9M1657.9 1351.2V1324.5M1659.6 1351.2V1320.8M1661.3 1351.2V1338.7M1663 1351.2V1319M1664.8 1351.2V1322M1666.5 1351.2V1326.2M1668.2 1351.2V1320.3M1669.9 1351.2V1315.3M1671.6 1351.2V1322.8M1673.3 1351.2V1317M1675 1351.2V1318.4M1676.7 1351.2V1324.2M1678.4 1351.2V1321.6M1680.2 1351.2V1334M1681.9 1351.2V1333.5M1683.6 1351.2V1332.3M1685.3 1351.2V1338.3M1687 1351.2V1323.7M1688.7 1351.2V1319.7M1690.4 1351.2V1323.5M1692.1 1351.2V1328.6M1693.8 1351.2V1332M1695.6 1351.2V1317.5M1697.3 1351.2V1320.6M1699 1351.2V1314M1700.7 1351.2V1326.6M1702.4 1351.2V1332.4M1704.1 1351.2V1326.4M1705.8 1351.2V1319.6M1707.5 1351.2V1317.6M1709.2 1351.2V1322.3M1711 1351.2V1321.2M1712.7 1351.2V1317.6M1714.4 1351.2V1331.9M1716.1 1351.2V1331.9M1717.8 1351.2V1318.6M1719.5 1351.2V1327.7M1721.2 1351.2V1330.4M1722.9 1351.2V1333.1M1724.6 1351.2V1318.7M1726.4 1351.2V1315.1M1728.1 1351.2V1317.9M1729.8 1351.2V1305.1M1731.5 1351.2V1326.5M1733.2 1351.2V1329.3M1734.9 1351.2V1318.7M1736.6 1351.2V1314.9M1738.3 1351.2V1318.1M1740 1351.2V1338M1741.8 1351.2V1341.5M1743.5 1351.2V1338M1745.2 1351.2V1341.9M1746.9 1351.2V1310.1M1748.6 1351.2V1335.5M1750.3 1351.2V1326.6M1752 1351.2V1331.7M1753.7 1351.2V1335.7M1755.4 1351.2V1316.4M1757.2 1351.2V1316.9M1758.9 1351.2V1325.5M1760.6 1351.2V1316.8M1762.3 1351.2V1326.7M1764 1351.2V1321.6M1765.7 1351.2V1325M1767.4 1351.2V1320.2M1769.1 1351.2V1329.4M1770.8 1351.2V1331.8M1772.6 1351.2V1303.8M1774.3 1351.2V1329.4M1776 1351.2V1306.8M1777.7 1351.2V1313.6M1779.4 1351.2V1319.8M1781.1 1351.2V1323.6M1782.8 1351.2V1325.9M1784.5 1351.2V1339.3M1786.2 1351.2V1323.2M1788 1351.2V1313.9M1789.7 1351.2V1319.6M1791.4 1351.2V1325.6M1793.1 1351.2V1310M1794.8 1351.2V1326.4M1796.5 1351.2V1312.4M1798.2 1351.2V1323.9M1799.9 1351.2V1337.7M1801.6 1351.2V1330.2M1803.4 1351.2V1326M1805.1 1351.2V1330.6M1806.8 1351.2V1311.2M1808.5 1351.2V1308M1810.2 1351.2V1317.5M1811.9 1351.2V1313M1813.6 1351.2V1335.6M1815.3 1351.2V1327.3M1817 1351.2V1337.8M1818.8 1351.2V1318.6M1820.5 1351.2V1336.9M1822.2 1351.2V1336.2M1823.9 1351.2V1327.5M1825.6 1351.2V1321.9M1827.3 1351.2V1347M1829 1351.2V1326M1830.7 1351.2V1327.1M1832.4 1351.2V1334.6M1834.2 1351.2V1311.8M1835.9 1351.2V1318.3M1837.6 1351.2V1325.5M1839.3 1351.2V1314.6M1841 1351.2V1307.9M1842.7 1351.2V1313.5M1844.4 1351.2V1316.7M1846.1 1351.2V1319.6M1847.8 1351.2V1323.8M1849.6 1351.2V1345.2M1851.3 1351.2V1303.5M1853 1351.2V1324.5M1854.7 1351.2V1335.6M1856.4 1351.2V1326.7M1858.1 1351.2V1308.2M1859.8 1351.2V1318.7M1861.5 1351.2V1325.2M1863.2 1351.2V1331M1865 1351.2V1336.3M1866.7 1351.2V1317.3M1868.4 1351.2V1323.8M1870.1 1351.2V1311.3M1871.8 1351.2V1325.8M1873.5 1351.2V1313.1M1875.2 1351.2V1315.2M1876.9 1351.2V1324.5M1878.6 1351.2V1320.5M1880.4 1351.2V1320.7M1882.1 1351.2V1309.2M1883.8 1351.2V1318.6M1885.5 1351.2V1327.9M1887.2 1351.2V1319.4M1888.9 1351.2V1316.5M1890.6 1351.2V1319.8M1892.3 1351.2V1331M1894 1351.2V1330.7M1895.8 1351.2V1328.8M1897.5 1351.2V1333.8M1899.2 1351.2V1327.9M1900.9 1351.2V1328.6M1902.6 1351.2V1335.9M1904.3 1351.2V1310.9M1906 1351.2V1315.5M1907.7 1351.2V1313.3M1909.4 1351.2V1326.3M1911.2 1351.2V1317.4M1912.9 1351.2V1313.4M1914.6 1351.2V1325.7M1916.3 1351.2V1326.9M1918 1351.2V1325.4M1919.7 1351.2V1324M1921.4 1351.2V1334.4M1923.1 1351.2V1320M1924.8 1351.2V1314.9M1926.6 1351.2V1332.8M1928.3 1351.2V1319.5M1930 1351.2V1328.4M1931.7 1351.2V1338M1933.4 1351.2V1327.1M1935.1 1351.2V1324M1936.8 1351.2V1332.5M1938.5 1351.2V1336M1940.2 1351.2V1332.4M1942 1351.2V1326.6M1943.7 1351.2V1322.9M1945.4 1351.2V1311.6M1947.1 1351.2V1328.4M1948.8 1351.2V1315.8M1950.5 1351.2V1322.2M1952.2 1351.2V1325.4M1953.9 1351.2V1313M1955.6 1351.2V1319.6M1957.4 1351.2V1325.1M1959.1 1351.2V1325M1960.8 1351.2V1316.4M1962.5 1351.2V1304.5M1964.2 1351.2V1334.1" fill="none" stroke="#8175B9" stroke-width="4.0" stroke-linecap="round"/>
<path d="M1534.4 1351.2L1536.2 1089.2L1536.6 1089.2L1538.4 1351.2Z" fill="#8175B9" stroke="#8175B9" stroke-width="4.4" stroke-linejoin="round"/>
</g>
<rect x="253.1" y="1006.4" width="1711.1" height="344.8" fill="none" stroke="#000" stroke-width="4.7"/>
<path d="M253.1 1351.2H228.7M253.1 1316.7H241.1M253.1 1282.2H228.7M253.1 1247.8H241.1M253.1 1213.3H228.7M253.1 1178.8H241.1M253.1 1144.3H228.7M253.1 1109.8H241.1M253.1 1075.4H228.7M253.1 1040.9H241.1M253.1 1006.4H228.7M253.1 1351.2V1375.6M360 1351.2V1363.2M467 1351.2V1375.6M573.9 1351.2V1363.2M680.9 1351.2V1375.6M787.8 1351.2V1363.2M894.8 1351.2V1375.6M1001.7 1351.2V1363.2M1108.7 1351.2V1375.6M1215.6 1351.2V1363.2M1322.5 1351.2V1375.6M1429.5 1351.2V1363.2M1536.4 1351.2V1375.6M1643.4 1351.2V1363.2M1750.3 1351.2V1375.6M1857.3 1351.2V1363.2M1964.2 1351.2V1375.6" fill="none" stroke="#000" stroke-width="4.7"/>
<text id="y2_70" class="tk" text-anchor="end" transform="translate(211.85 1365.00) scale(1.0300 1.0750)"><tspan dy="1.7">−</tspan><tspan dy="-1.7">70</tspan></text>
<text id="y2_60" class="tk" text-anchor="end" transform="translate(211.85 1296.04) scale(1.0300 1.0750)"><tspan dy="1.7">−</tspan><tspan dy="-1.7">60</tspan></text>
<text id="y2_50" class="tk" text-anchor="end" transform="translate(211.85 1227.08) scale(1.0300 1.0750)"><tspan dy="1.7">−</tspan><tspan dy="-1.7">50</tspan></text>
<text id="y2_40" class="tk" text-anchor="end" transform="translate(211.85 1158.12) scale(1.0300 1.0750)"><tspan dy="1.7">−</tspan><tspan dy="-1.7">40</tspan></text>
<text id="y2_30" class="tk" text-anchor="end" transform="translate(211.85 1089.16) scale(1.0300 1.0750)"><tspan dy="1.7">−</tspan><tspan dy="-1.7">30</tspan></text>
<text id="y2_20" class="tk" text-anchor="end" transform="translate(211.85 1020.20) scale(1.0300 1.0750)"><tspan dy="1.7">−</tspan><tspan dy="-1.7">20</tspan></text>
<text id="x2_1400" class="tk" text-anchor="middle" transform="translate(253.70 1432.60) scale(1.0300 1.0750)">1400</text>
<text id="x2_1425" class="tk" text-anchor="middle" transform="translate(467.59 1432.60) scale(1.0300 1.0750)">1425</text>
<text id="x2_1450" class="tk" text-anchor="middle" transform="translate(681.48 1432.60) scale(1.0300 1.0750)">1450</text>
<text id="x2_1475" class="tk" text-anchor="middle" transform="translate(895.36 1432.60) scale(1.0300 1.0750)">1475</text>
<text id="x2_1500" class="tk" text-anchor="middle" transform="translate(1109.25 1432.60) scale(1.0300 1.0750)">1500</text>
<text id="x2_1525" class="tk" text-anchor="middle" transform="translate(1323.14 1432.60) scale(1.0300 1.0750)">1525</text>
<text id="x2_1550" class="tk" text-anchor="middle" transform="translate(1537.02 1432.60) scale(1.0300 1.0750)">1550</text>
<text id="x2_1575" class="tk" text-anchor="middle" transform="translate(1750.91 1432.60) scale(1.0300 1.0750)">1575</text>
<text id="x2_1600" class="tk" text-anchor="middle" transform="translate(1964.80 1432.60) scale(1.0300 1.0750)">1600</text>
<text id="pump2" class="lg" style="font-size:53.30px" text-anchor="start" transform="translate(279.03 1065.70)">Pump power</text>
<path d="M290.9 1113.1H410.4" stroke="#8175B9" stroke-width="4.7" stroke-linecap="round" fill="none"/>
<text id="w2" class="lg" style="font-size:53.00px" text-anchor="start" transform="translate(423.66 1130.06)">36W</text>
</g>
<text id="yt" class="ti" style="font-size:73.0px" transform="translate(73.5 1027.0) rotate(-90) scale(1 1.020)" x="-6.7 15.6 60.1 85.8 128.2 168.1 204.2 224.6 250.1 286.6 304.6 330.0 372.9 422.6 488.1" y="0">Intensity (dBm)</text>
<text id="xt" class="ti" style="font-size:73.0px" transform="translate(0 1535.0) scale(1 0.955)" x="841.1 909.0 952.2 989.3 1031.6 1048.6 1091.4 1133.0 1175.2 1201.6 1242.2 1260.6 1289.1 1334.7 1399.6" y="0">Wavelength (nm)</text>
</svg></body></html>
